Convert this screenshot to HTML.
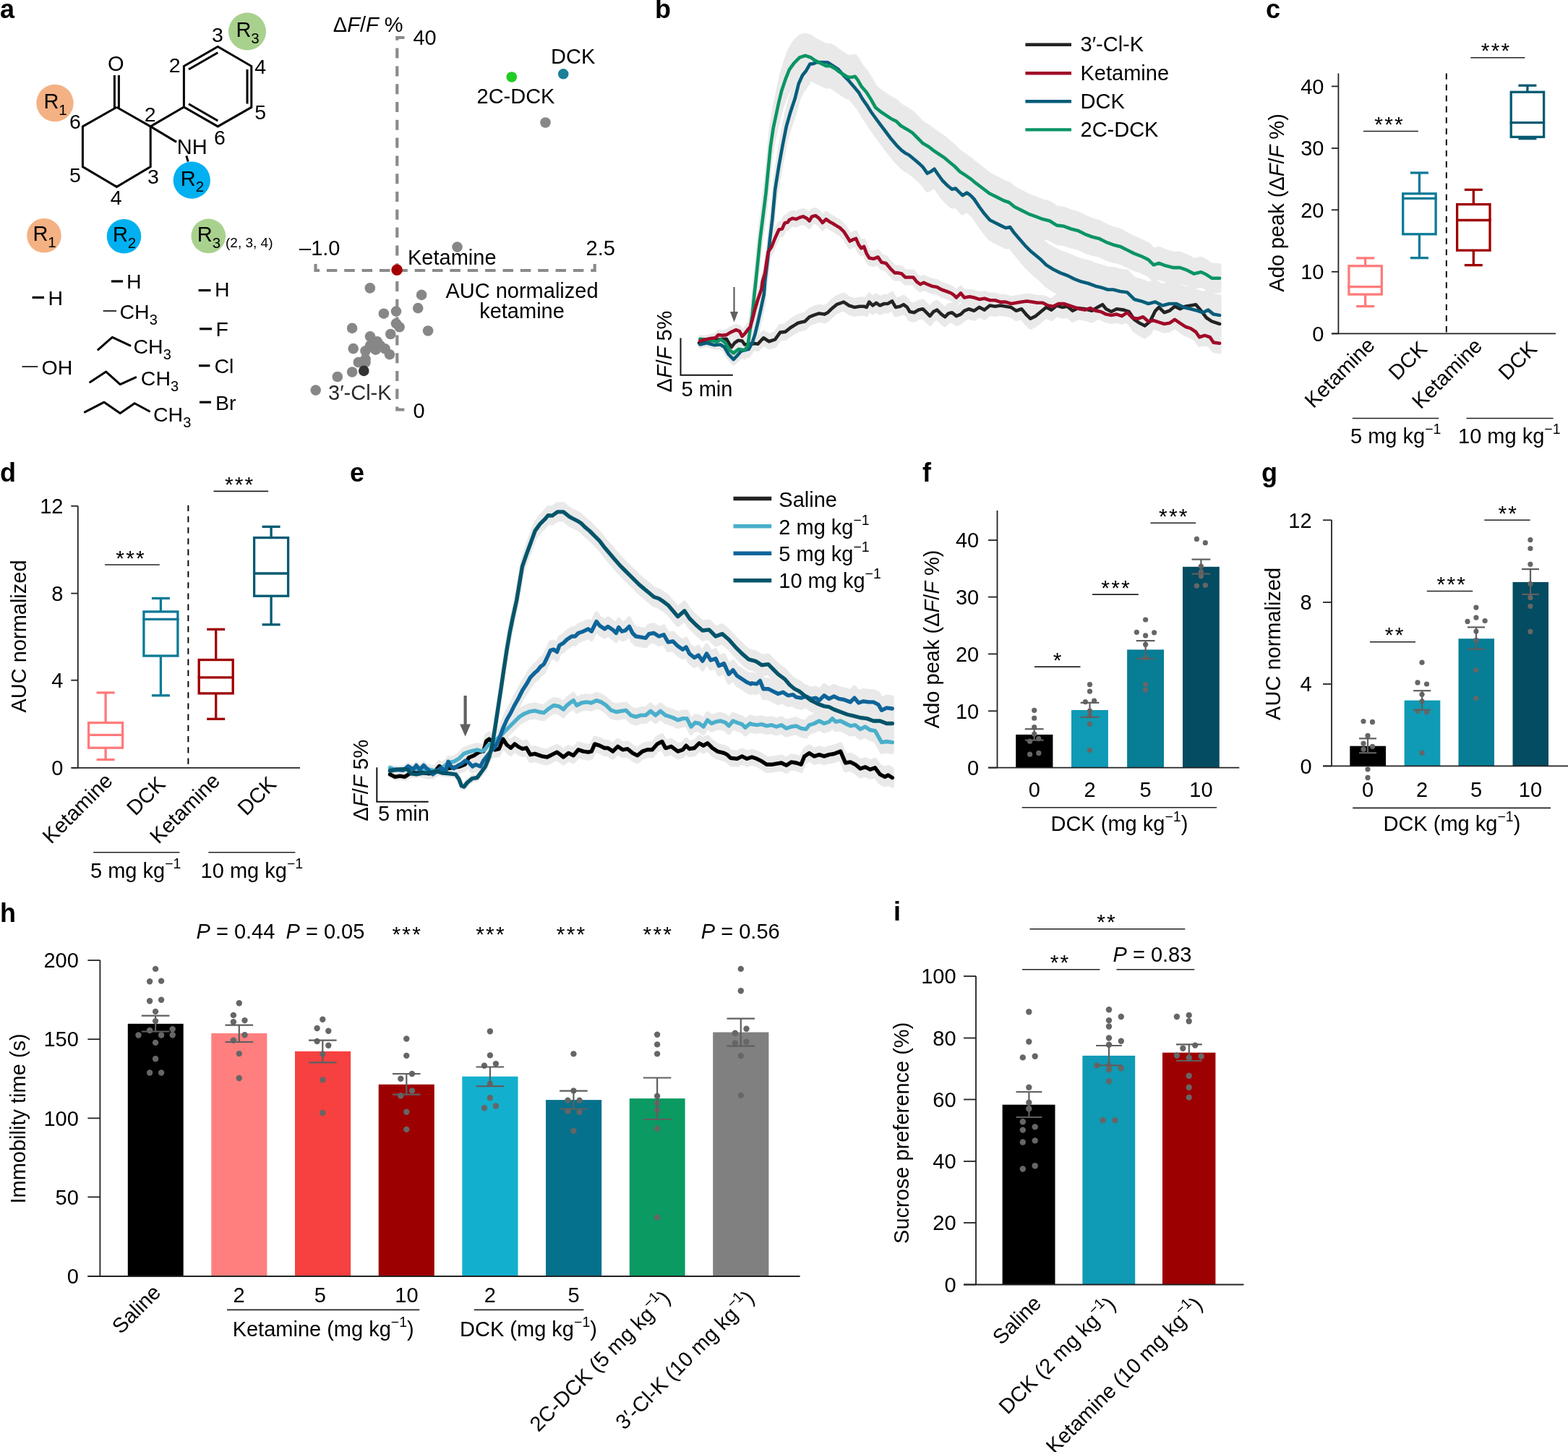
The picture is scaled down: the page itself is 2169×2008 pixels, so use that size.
<!DOCTYPE html>
<html><head><meta charset="utf-8"><title>Figure</title>
<style>
html,body{margin:0;padding:0;background:#fff;}
svg{display:block;}
text{font-family:"Liberation Sans",Arial,Helvetica,sans-serif;}
</style></head>
<body>
<svg width="2169" height="2008" viewBox="0 0 2169 2008">
<rect width="2169" height="2008" fill="#fff"/>
<text x="0.0" y="24.5" font-size="36" font-weight="bold">a</text>
<text x="906.0" y="24.5" font-size="36" font-weight="bold">b</text>
<text x="1751.0" y="24.5" font-size="36" font-weight="bold">c</text>
<text x="0.0" y="665.5" font-size="36" font-weight="bold">d</text>
<text x="484.0" y="665.5" font-size="36" font-weight="bold">e</text>
<text x="1276.0" y="665.5" font-size="36" font-weight="bold">f</text>
<text x="1745.0" y="665.5" font-size="36" font-weight="bold">g</text>
<text x="0.0" y="1275.0" font-size="36" font-weight="bold">h</text>
<text x="1236.0" y="1273.0" font-size="36" font-weight="bold">i</text>
<circle cx="76.0" cy="142.5" r="25.7" fill="#f4b183"/>
<circle cx="265.3" cy="249.2" r="25.6" fill="#00b0f0"/>
<circle cx="342.0" cy="43.6" r="26" fill="#a9d18e"/>
<polyline points="161.4,148.2 208.2,174.9 208.2,230.6 161.4,258.4 114.4,230.6 114.4,174.9 161.4,148.2" fill="none" stroke="#000" stroke-width="3.0" stroke-linejoin="miter"/>
<line x1="158.4" y1="104.0" x2="158.4" y2="149.5" stroke="#000" stroke-width="3.0"/>
<line x1="164.4" y1="104.0" x2="164.4" y2="150.5" stroke="#000" stroke-width="3.0"/>
<line x1="208.2" y1="174.9" x2="254.4" y2="148.0" stroke="#000" stroke-width="3.0"/>
<line x1="208.2" y1="174.9" x2="244.1" y2="196.4" stroke="#000" stroke-width="3.0"/>
<line x1="257.8" y1="215.4" x2="260.2" y2="223.5" stroke="#000" stroke-width="3.0"/>
<polyline points="254.4,148.0 254.4,91.5 301.3,64.4 347.8,91.5 347.8,148.4 301.3,174.9 254.4,148.0" fill="none" stroke="#000" stroke-width="3.0" stroke-linejoin="miter"/>
<line x1="261.0" y1="96.0" x2="301.3" y2="72.8" stroke="#000" stroke-width="3.0"/>
<line x1="342.0" y1="96.0" x2="342.0" y2="143.5" stroke="#000" stroke-width="3.0"/>
<line x1="261.0" y1="143.8" x2="301.3" y2="167.0" stroke="#000" stroke-width="3.0"/>
<text x="160.3" y="97.8" font-size="29" text-anchor="middle">O</text>
<text x="244.8" y="212.8" font-size="29">NH</text>
<text x="301.0" y="57.9" font-size="28.5" text-anchor="middle">3</text>
<text x="241.6" y="100.0" font-size="28.5" text-anchor="middle">2</text>
<text x="360.3" y="102.0" font-size="28.5" text-anchor="middle">4</text>
<text x="360.3" y="165.2" font-size="28.5" text-anchor="middle">5</text>
<text x="304.0" y="200.0" font-size="28.5" text-anchor="middle">6</text>
<text x="207.6" y="167.5" font-size="28.5" text-anchor="middle">2</text>
<text x="104.0" y="178.3" font-size="28.5" text-anchor="middle">6</text>
<text x="104.0" y="251.6" font-size="28.5" text-anchor="middle">5</text>
<text x="160.7" y="283.4" font-size="28.5" text-anchor="middle">4</text>
<text x="212.0" y="253.9" font-size="28.5" text-anchor="middle">3</text>
<text x="60.4" y="149.8" font-size="29">R<tspan font-size="20.5" dy="8.9">1</tspan></text>
<text x="249.7" y="256.5" font-size="29">R<tspan font-size="20.5" dy="8.9">2</tspan></text>
<text x="326.4" y="50.9" font-size="29">R<tspan font-size="20.5" dy="8.9">3</tspan></text>
<circle cx="61.0" cy="325.8" r="23.8" fill="#f4b183"/>
<circle cx="171.5" cy="326.8" r="23.8" fill="#00b0f0"/>
<circle cx="288.3" cy="326.4" r="23.8" fill="#a9d18e"/>
<text x="45.4" y="333.1" font-size="29">R<tspan font-size="20.5" dy="8.9">1</tspan></text>
<text x="155.9" y="334.1" font-size="29">R<tspan font-size="20.5" dy="8.9">2</tspan></text>
<text x="272.7" y="333.7" font-size="29">R<tspan font-size="20.5" dy="8.9">3</tspan></text>
<text x="312.0" y="341.6" font-size="19">(2, 3, 4)</text>
<line x1="44.6" y1="411.4" x2="61.0" y2="411.4" stroke="#000" stroke-width="3.2"/>
<text x="66.5" y="421.5" font-size="28.5">H</text>
<line x1="30.5" y1="507.0" x2="52.2" y2="507.0" stroke="#000" stroke-width="1.6"/>
<text x="57.5" y="518.3" font-size="28.5">OH</text>
<line x1="154.0" y1="389.0" x2="170.0" y2="389.0" stroke="#000" stroke-width="3.2"/>
<text x="175.0" y="399.0" font-size="28.5">H</text>
<line x1="142.7" y1="430.0" x2="161.0" y2="430.0" stroke="#000" stroke-width="1.6"/>
<text x="165.5" y="440.5" font-size="28.5">CH<tspan font-size="20" dy="8">3</tspan></text>
<polyline points="135.7,483.6 155.3,466.3 180.0,477.9" fill="none" stroke="#000" stroke-width="3.0" stroke-linejoin="round" stroke-linecap="round"/>
<text x="184.5" y="488.9" font-size="28.5">CH<tspan font-size="20" dy="8">3</tspan></text>
<polyline points="124.6,528.4 146.7,514.1 166.2,531.6 187.7,521.9" fill="none" stroke="#000" stroke-width="3.0" stroke-linejoin="round" stroke-linecap="round"/>
<text x="194.8" y="533.0" font-size="28.5">CH<tspan font-size="20" dy="8">3</tspan></text>
<polyline points="117.4,569.9 144.1,556.2 166.2,571.6 186.2,557.7 206.6,568.8" fill="none" stroke="#000" stroke-width="3.0" stroke-linejoin="round" stroke-linecap="round"/>
<text x="212.0" y="583.0" font-size="28.5">CH<tspan font-size="20" dy="8">3</tspan></text>
<line x1="274.6" y1="401.5" x2="291.5" y2="401.5" stroke="#000" stroke-width="3.2"/>
<text x="297.0" y="410.0" font-size="28.5">H</text>
<line x1="276.0" y1="454.8" x2="293.0" y2="454.8" stroke="#000" stroke-width="3.2"/>
<text x="298.5" y="464.7" font-size="28.5">F</text>
<line x1="275.0" y1="505.7" x2="290.4" y2="505.7" stroke="#000" stroke-width="3.2"/>
<text x="296.5" y="516.0" font-size="28.5">Cl</text>
<line x1="276.0" y1="556.2" x2="292.0" y2="556.2" stroke="#000" stroke-width="3.2"/>
<text x="298.0" y="566.7" font-size="28.5">Br</text>
<path d="M559.5,52 L549.3,52 L549.3,566.5 L559.5,566.5" fill="none" stroke="#8a8a8a" stroke-width="4.2" stroke-dasharray="14 10.8"/>
<path d="M436.5,365 L436.5,374 L822.7,374 L822.7,365" fill="none" stroke="#8a8a8a" stroke-width="4.2" stroke-dasharray="14.5 9.86"/>
<text x="557.5" y="43.8" font-size="29" text-anchor="end">&#916;<tspan font-style="italic">F</tspan>/<tspan font-style="italic">F</tspan> %</text>
<text x="571.4" y="62.3" font-size="29">40</text>
<text x="571.4" y="578.0" font-size="29">0</text>
<text x="414.0" y="353.2" font-size="29">&#8211;1.0</text>
<text x="810.5" y="353.2" font-size="29">2.5</text>
<text x="762.0" y="88.3" font-size="29">DCK</text>
<text x="659.5" y="142.9" font-size="29">2C-DCK</text>
<text x="564.0" y="366.2" font-size="29">Ketamine</text>
<text x="722.0" y="411.7" font-size="29" text-anchor="middle">AUC normalized</text>
<text x="722.0" y="440.0" font-size="29" text-anchor="middle">ketamine</text>
<text x="454.0" y="553.0" font-size="29" fill="#2b2b2b">3&#8242;-Cl-K</text>
<circle cx="632.5" cy="341.6" r="7.3" fill="#878787"/>
<circle cx="754.5" cy="169.5" r="7.3" fill="#878787"/>
<circle cx="511.8" cy="398.4" r="7.3" fill="#878787"/>
<circle cx="583.1" cy="407.9" r="7.3" fill="#878787"/>
<circle cx="578.2" cy="426.1" r="7.3" fill="#878787"/>
<circle cx="530.9" cy="433.7" r="7.3" fill="#878787"/>
<circle cx="548.0" cy="430.6" r="7.3" fill="#878787"/>
<circle cx="548.0" cy="447.4" r="7.3" fill="#878787"/>
<circle cx="552.6" cy="452.3" r="7.3" fill="#878787"/>
<circle cx="487.1" cy="453.9" r="7.3" fill="#878787"/>
<circle cx="592.1" cy="457.5" r="7.3" fill="#878787"/>
<circle cx="540.3" cy="462.0" r="7.3" fill="#878787"/>
<circle cx="512.0" cy="465.3" r="7.3" fill="#878787"/>
<circle cx="521.7" cy="472.3" r="7.3" fill="#878787"/>
<circle cx="488.7" cy="482.1" r="7.3" fill="#878787"/>
<circle cx="532.6" cy="482.4" r="7.3" fill="#878787"/>
<circle cx="505.5" cy="485.3" r="7.3" fill="#878787"/>
<circle cx="519.6" cy="483.7" r="7.3" fill="#878787"/>
<circle cx="539.0" cy="490.2" r="7.3" fill="#878787"/>
<circle cx="512.0" cy="478.0" r="7.3" fill="#878787"/>
<circle cx="526.0" cy="478.0" r="7.3" fill="#878787"/>
<circle cx="505.5" cy="496.7" r="7.3" fill="#878787"/>
<circle cx="495.8" cy="501.0" r="7.3" fill="#878787"/>
<circle cx="505.5" cy="501.0" r="7.3" fill="#878787"/>
<circle cx="487.1" cy="514.5" r="7.3" fill="#878787"/>
<circle cx="466.8" cy="521.0" r="7.3" fill="#878787"/>
<circle cx="436.7" cy="539.6" r="7.3" fill="#878787"/>
<circle cx="503.3" cy="512.9" r="7.3" fill="#333"/>
<circle cx="549.1" cy="373.3" r="7.8" fill="#a50000"/>
<circle cx="707.8" cy="106.5" r="7.3" fill="#22cc22"/>
<circle cx="779.2" cy="102.3" r="7.3" fill="#1b7f99"/>
<line x1="1851.4" y1="101.5" x2="1851.4" y2="461.4" stroke="#222" stroke-width="1.8"/>
<line x1="1841.9" y1="119.4" x2="1851.4" y2="119.4" stroke="#222" stroke-width="1.8"/>
<text x="1831.5" y="129.6" font-size="29" text-anchor="end">40</text>
<line x1="1841.9" y1="205.0" x2="1851.4" y2="205.0" stroke="#222" stroke-width="1.8"/>
<text x="1831.5" y="215.2" font-size="29" text-anchor="end">30</text>
<line x1="1841.9" y1="290.3" x2="1851.4" y2="290.3" stroke="#222" stroke-width="1.8"/>
<text x="1831.5" y="300.5" font-size="29" text-anchor="end">20</text>
<line x1="1841.9" y1="375.8" x2="1851.4" y2="375.8" stroke="#222" stroke-width="1.8"/>
<text x="1831.5" y="386.0" font-size="29" text-anchor="end">10</text>
<line x1="1841.9" y1="461.4" x2="1851.4" y2="461.4" stroke="#222" stroke-width="1.8"/>
<text x="1831.5" y="471.6" font-size="29" text-anchor="end">0</text>
<line x1="1842.0" y1="461.4" x2="2152.0" y2="461.4" stroke="#222" stroke-width="1.8"/>
<text x="1775.5" y="280.5" font-size="29" text-anchor="middle" transform="rotate(-90 1775.5 280.5)">Ado peak (&#916;<tspan font-style="italic">F</tspan>/<tspan font-style="italic">F</tspan> %)</text>
<line x1="2000.8" y1="101.5" x2="2000.8" y2="461.4" stroke="#000" stroke-width="1.9" stroke-dasharray="8.3 6.9"/>
<rect x="1865.9" y="367.8" width="45.4" height="39.3" fill="none" stroke="#ff7b7b" stroke-width="3.3"/>
<line x1="1864.4" y1="396.6" x2="1912.8" y2="396.6" stroke="#ff7b7b" stroke-width="3.3"/>
<line x1="1888.6" y1="367.8" x2="1888.6" y2="356.9" stroke="#ff7b7b" stroke-width="3.3"/>
<line x1="1888.6" y1="407.1" x2="1888.6" y2="423.6" stroke="#ff7b7b" stroke-width="3.3"/>
<line x1="1876.1" y1="356.9" x2="1901.1" y2="356.9" stroke="#ff7b7b" stroke-width="3.3"/>
<line x1="1876.1" y1="423.6" x2="1901.1" y2="423.6" stroke="#ff7b7b" stroke-width="3.3"/>
<rect x="1940.7" y="267.8" width="45.4" height="56.0" fill="none" stroke="#0b7a96" stroke-width="3.3"/>
<line x1="1939.2" y1="274.3" x2="1987.6" y2="274.3" stroke="#0b7a96" stroke-width="3.3"/>
<line x1="1963.4" y1="267.8" x2="1963.4" y2="239.0" stroke="#0b7a96" stroke-width="3.3"/>
<line x1="1963.4" y1="323.8" x2="1963.4" y2="356.7" stroke="#0b7a96" stroke-width="3.3"/>
<line x1="1950.9" y1="239.0" x2="1975.9" y2="239.0" stroke="#0b7a96" stroke-width="3.3"/>
<line x1="1950.9" y1="356.7" x2="1975.9" y2="356.7" stroke="#0b7a96" stroke-width="3.3"/>
<rect x="2015.6" y="282.6" width="45.4" height="63.6" fill="none" stroke="#9e0000" stroke-width="3.3"/>
<line x1="2014.1" y1="304.5" x2="2062.5" y2="304.5" stroke="#9e0000" stroke-width="3.3"/>
<line x1="2038.3" y1="282.6" x2="2038.3" y2="262.4" stroke="#9e0000" stroke-width="3.3"/>
<line x1="2038.3" y1="346.2" x2="2038.3" y2="366.7" stroke="#9e0000" stroke-width="3.3"/>
<line x1="2025.8" y1="262.4" x2="2050.8" y2="262.4" stroke="#9e0000" stroke-width="3.3"/>
<line x1="2025.8" y1="366.7" x2="2050.8" y2="366.7" stroke="#9e0000" stroke-width="3.3"/>
<rect x="2090.2" y="127.3" width="45.4" height="62.1" fill="none" stroke="#045a72" stroke-width="3.3"/>
<line x1="2088.7" y1="169.7" x2="2137.1" y2="169.7" stroke="#045a72" stroke-width="3.3"/>
<line x1="2112.9" y1="127.3" x2="2112.9" y2="118.2" stroke="#045a72" stroke-width="3.3"/>
<line x1="2112.9" y1="189.4" x2="2112.9" y2="191.7" stroke="#045a72" stroke-width="3.3"/>
<line x1="2100.4" y1="118.2" x2="2125.4" y2="118.2" stroke="#045a72" stroke-width="3.3"/>
<line x1="2100.4" y1="191.7" x2="2125.4" y2="191.7" stroke="#045a72" stroke-width="3.3"/>
<text x="1922.1" y="182.0" font-size="30" text-anchor="middle" letter-spacing="2.2">***</text>
<line x1="1886.0" y1="181.5" x2="1961.8" y2="181.5" stroke="#222" stroke-width="1.6"/>
<text x="2069.6" y="80.2" font-size="30" text-anchor="middle" letter-spacing="2.2">***</text>
<line x1="2034.3" y1="79.7" x2="2109.4" y2="79.7" stroke="#222" stroke-width="1.6"/>
<text x="1903.5" y="479.0" font-size="29" text-anchor="end" transform="rotate(-45 1903.5 479.0)">Ketamine</text>
<text x="1976.0" y="484.0" font-size="29" text-anchor="end" transform="rotate(-45 1976.0 484.0)">DCK</text>
<text x="2052.0" y="480.0" font-size="29" text-anchor="end" transform="rotate(-45 2052.0 480.0)">Ketamine</text>
<text x="2128.0" y="484.0" font-size="29" text-anchor="end" transform="rotate(-45 2128.0 484.0)">DCK</text>
<line x1="1870.8" y1="578.5" x2="1990.3" y2="578.5" stroke="#222" stroke-width="1.6"/>
<line x1="2028.4" y1="578.5" x2="2148.6" y2="578.5" stroke="#222" stroke-width="1.6"/>
<text x="1868.0" y="612.5" font-size="29">5 mg kg<tspan font-size="19.5" dy="-13">&#8722;1</tspan><tspan dy="13"></tspan></text>
<text x="2017.0" y="612.5" font-size="29">10 mg kg<tspan font-size="19.5" dy="-13">&#8722;1</tspan><tspan dy="13"></tspan></text>
<line x1="107.8" y1="699.8" x2="107.8" y2="1061.8" stroke="#222" stroke-width="1.8"/>
<line x1="98.3" y1="699.8" x2="107.8" y2="699.8" stroke="#222" stroke-width="1.8"/>
<text x="87.5" y="710.0" font-size="29" text-anchor="end">12</text>
<line x1="98.3" y1="820.6" x2="107.8" y2="820.6" stroke="#222" stroke-width="1.8"/>
<text x="87.5" y="830.8" font-size="29" text-anchor="end">8</text>
<line x1="98.3" y1="940.7" x2="107.8" y2="940.7" stroke="#222" stroke-width="1.8"/>
<text x="87.5" y="950.9" font-size="29" text-anchor="end">4</text>
<line x1="98.3" y1="1061.8" x2="107.8" y2="1061.8" stroke="#222" stroke-width="1.8"/>
<text x="87.5" y="1072.0" font-size="29" text-anchor="end">0</text>
<line x1="99.0" y1="1061.8" x2="415.0" y2="1061.8" stroke="#222" stroke-width="1.8"/>
<text x="36.0" y="880.0" font-size="29" text-anchor="middle" transform="rotate(-90 36.0 880.0)">AUC normalized</text>
<line x1="260.4" y1="698.8" x2="260.4" y2="1061.8" stroke="#000" stroke-width="1.9" stroke-dasharray="8.3 6.9"/>
<rect x="122.6" y="999.5" width="47.0" height="34.7" fill="none" stroke="#ff7b7b" stroke-width="3.3"/>
<line x1="121.1" y1="1016.4" x2="171.1" y2="1016.4" stroke="#ff7b7b" stroke-width="3.3"/>
<line x1="146.1" y1="999.5" x2="146.1" y2="957.9" stroke="#ff7b7b" stroke-width="3.3"/>
<line x1="146.1" y1="1034.2" x2="146.1" y2="1050.5" stroke="#ff7b7b" stroke-width="3.3"/>
<line x1="133.6" y1="957.9" x2="158.6" y2="957.9" stroke="#ff7b7b" stroke-width="3.3"/>
<line x1="133.6" y1="1050.5" x2="158.6" y2="1050.5" stroke="#ff7b7b" stroke-width="3.3"/>
<rect x="198.9" y="845.9" width="47.0" height="61.1" fill="none" stroke="#0b7a96" stroke-width="3.3"/>
<line x1="197.4" y1="856.3" x2="247.4" y2="856.3" stroke="#0b7a96" stroke-width="3.3"/>
<line x1="222.4" y1="845.9" x2="222.4" y2="827.4" stroke="#0b7a96" stroke-width="3.3"/>
<line x1="222.4" y1="907.0" x2="222.4" y2="961.8" stroke="#0b7a96" stroke-width="3.3"/>
<line x1="209.9" y1="827.4" x2="234.9" y2="827.4" stroke="#0b7a96" stroke-width="3.3"/>
<line x1="209.9" y1="961.8" x2="234.9" y2="961.8" stroke="#0b7a96" stroke-width="3.3"/>
<rect x="275.2" y="912.5" width="47.0" height="46.4" fill="none" stroke="#9e0000" stroke-width="3.3"/>
<line x1="273.7" y1="936.8" x2="323.7" y2="936.8" stroke="#9e0000" stroke-width="3.3"/>
<line x1="298.7" y1="912.5" x2="298.7" y2="870.3" stroke="#9e0000" stroke-width="3.3"/>
<line x1="298.7" y1="958.9" x2="298.7" y2="994.3" stroke="#9e0000" stroke-width="3.3"/>
<line x1="286.2" y1="870.3" x2="311.2" y2="870.3" stroke="#9e0000" stroke-width="3.3"/>
<line x1="286.2" y1="994.3" x2="311.2" y2="994.3" stroke="#9e0000" stroke-width="3.3"/>
<rect x="351.6" y="743.6" width="47.0" height="80.6" fill="none" stroke="#045a72" stroke-width="3.3"/>
<line x1="350.1" y1="793.0" x2="400.1" y2="793.0" stroke="#045a72" stroke-width="3.3"/>
<line x1="375.1" y1="743.6" x2="375.1" y2="728.4" stroke="#045a72" stroke-width="3.3"/>
<line x1="375.1" y1="824.2" x2="375.1" y2="863.8" stroke="#045a72" stroke-width="3.3"/>
<line x1="362.6" y1="728.4" x2="387.6" y2="728.4" stroke="#045a72" stroke-width="3.3"/>
<line x1="362.6" y1="863.8" x2="387.6" y2="863.8" stroke="#045a72" stroke-width="3.3"/>
<text x="181.1" y="781.5" font-size="30" text-anchor="middle" letter-spacing="2.2">***</text>
<line x1="145.1" y1="781.0" x2="220.8" y2="781.0" stroke="#222" stroke-width="1.6"/>
<text x="331.7" y="679.9" font-size="30" text-anchor="middle" letter-spacing="2.2">***</text>
<line x1="295.5" y1="679.4" x2="371.1" y2="679.4" stroke="#222" stroke-width="1.6"/>
<text x="157.5" y="1081.5" font-size="29" text-anchor="end" transform="rotate(-45 157.5 1081.5)">Ketamine</text>
<text x="230.5" y="1086.0" font-size="29" text-anchor="end" transform="rotate(-45 230.5 1086.0)">DCK</text>
<text x="306.0" y="1081.5" font-size="29" text-anchor="end" transform="rotate(-45 306.0 1081.5)">Ketamine</text>
<text x="384.0" y="1086.0" font-size="29" text-anchor="end" transform="rotate(-45 384.0 1086.0)">DCK</text>
<line x1="129.2" y1="1178.7" x2="248.4" y2="1178.7" stroke="#222" stroke-width="1.6"/>
<line x1="288.3" y1="1178.7" x2="408.4" y2="1178.7" stroke="#222" stroke-width="1.6"/>
<text x="125.0" y="1213.5" font-size="29">5 mg kg<tspan font-size="19.5" dy="-13">&#8722;1</tspan><tspan dy="13"></tspan></text>
<text x="277.6" y="1213.5" font-size="29">10 mg kg<tspan font-size="19.5" dy="-13">&#8722;1</tspan><tspan dy="13"></tspan></text>
<rect x="1405.2" y="1015.9" width="51.2" height="45.7" fill="#000000"/>
<rect x="1482.0" y="982.0" width="50.9" height="79.6" fill="#0f9ab5"/>
<rect x="1559.1" y="898.4" width="50.9" height="163.2" fill="#077d96"/>
<rect x="1636.0" y="783.8" width="50.8" height="277.8" fill="#034c61"/>
<line x1="1379.5" y1="705.9" x2="1379.5" y2="1061.6" stroke="#222" stroke-width="1.8"/>
<line x1="1367.0" y1="747.0" x2="1379.5" y2="747.0" stroke="#222" stroke-width="1.8"/>
<text x="1354.2" y="757.2" font-size="29" text-anchor="end">40</text>
<line x1="1367.0" y1="825.6" x2="1379.5" y2="825.6" stroke="#222" stroke-width="1.8"/>
<text x="1354.2" y="835.8" font-size="29" text-anchor="end">30</text>
<line x1="1367.0" y1="904.4" x2="1379.5" y2="904.4" stroke="#222" stroke-width="1.8"/>
<text x="1354.2" y="914.6" font-size="29" text-anchor="end">20</text>
<line x1="1367.0" y1="983.3" x2="1379.5" y2="983.3" stroke="#222" stroke-width="1.8"/>
<text x="1354.2" y="993.5" font-size="29" text-anchor="end">10</text>
<line x1="1367.0" y1="1061.6" x2="1379.5" y2="1061.6" stroke="#222" stroke-width="1.8"/>
<text x="1354.2" y="1071.8" font-size="29" text-anchor="end">0</text>
<line x1="1367.0" y1="1061.6" x2="1714.3" y2="1061.6" stroke="#222" stroke-width="1.8"/>
<text x="1299.0" y="883.8" font-size="29" text-anchor="middle" transform="rotate(-90 1299.0 883.8)">Ado peak (&#916;<tspan font-style="italic">F</tspan>/<tspan font-style="italic">F</tspan> %)</text>
<circle cx="1430.7" cy="982.3" r="3.6" fill="#666666"/>
<circle cx="1430.7" cy="993.2" r="3.6" fill="#666666"/>
<circle cx="1430.7" cy="1005.5" r="3.6" fill="#666666"/>
<circle cx="1430.7" cy="1015.0" r="3.6" fill="#666666"/>
<circle cx="1436.8" cy="1021.6" r="3.6" fill="#666666"/>
<circle cx="1424.6" cy="1025.2" r="3.6" fill="#666666"/>
<circle cx="1436.8" cy="1041.4" r="3.6" fill="#666666"/>
<circle cx="1424.6" cy="1043.2" r="3.6" fill="#666666"/>
<circle cx="1507.5" cy="946.6" r="3.6" fill="#666666"/>
<circle cx="1507.5" cy="956.1" r="3.6" fill="#666666"/>
<circle cx="1501.4" cy="970.7" r="3.6" fill="#666666"/>
<circle cx="1513.6" cy="969.1" r="3.6" fill="#666666"/>
<circle cx="1507.5" cy="983.2" r="3.6" fill="#666666"/>
<circle cx="1507.5" cy="990.0" r="3.6" fill="#666666"/>
<circle cx="1507.5" cy="1001.1" r="3.6" fill="#666666"/>
<circle cx="1507.5" cy="1037.3" r="3.6" fill="#666666"/>
<circle cx="1584.6" cy="857.0" r="3.6" fill="#666666"/>
<circle cx="1572.3" cy="874.3" r="3.6" fill="#666666"/>
<circle cx="1596.6" cy="874.8" r="3.6" fill="#666666"/>
<circle cx="1584.6" cy="878.9" r="3.6" fill="#666666"/>
<circle cx="1584.6" cy="891.3" r="3.6" fill="#666666"/>
<circle cx="1584.6" cy="910.0" r="3.6" fill="#666666"/>
<circle cx="1584.6" cy="946.6" r="3.6" fill="#666666"/>
<circle cx="1584.6" cy="954.3" r="3.6" fill="#666666"/>
<circle cx="1655.4" cy="745.4" r="3.6" fill="#666666"/>
<circle cx="1667.3" cy="750.7" r="3.6" fill="#666666"/>
<circle cx="1661.4" cy="783.2" r="3.6" fill="#666666"/>
<circle cx="1661.4" cy="790.9" r="3.6" fill="#666666"/>
<circle cx="1661.4" cy="796.8" r="3.6" fill="#666666"/>
<circle cx="1655.4" cy="810.2" r="3.6" fill="#666666"/>
<circle cx="1667.3" cy="809.3" r="3.6" fill="#666666"/>
<line x1="1430.7" y1="1008.2" x2="1430.7" y2="1023.6" stroke="#5f5f5f" stroke-width="2.2"/>
<line x1="1417.8" y1="1008.2" x2="1443.6" y2="1008.2" stroke="#5f5f5f" stroke-width="2.2"/>
<line x1="1417.8" y1="1023.6" x2="1443.6" y2="1023.6" stroke="#5f5f5f" stroke-width="2.2"/>
<line x1="1507.5" y1="971.8" x2="1507.5" y2="991.8" stroke="#5f5f5f" stroke-width="2.2"/>
<line x1="1494.6" y1="971.8" x2="1520.4" y2="971.8" stroke="#5f5f5f" stroke-width="2.2"/>
<line x1="1494.6" y1="991.8" x2="1520.4" y2="991.8" stroke="#5f5f5f" stroke-width="2.2"/>
<line x1="1584.6" y1="886.1" x2="1584.6" y2="910.9" stroke="#5f5f5f" stroke-width="2.2"/>
<line x1="1571.7" y1="886.1" x2="1597.5" y2="886.1" stroke="#5f5f5f" stroke-width="2.2"/>
<line x1="1571.7" y1="910.9" x2="1597.5" y2="910.9" stroke="#5f5f5f" stroke-width="2.2"/>
<line x1="1661.4" y1="773.6" x2="1661.4" y2="793.6" stroke="#5f5f5f" stroke-width="2.2"/>
<line x1="1648.5" y1="773.6" x2="1674.3" y2="773.6" stroke="#5f5f5f" stroke-width="2.2"/>
<line x1="1648.5" y1="793.6" x2="1674.3" y2="793.6" stroke="#5f5f5f" stroke-width="2.2"/>
<line x1="1431.0" y1="922.1" x2="1494.5" y2="922.1" stroke="#222" stroke-width="1.6"/>
<text x="1463.8" y="922.6" font-size="30" text-anchor="middle" letter-spacing="2.2">*</text>
<line x1="1511.0" y1="822.1" x2="1574.8" y2="822.1" stroke="#222" stroke-width="1.6"/>
<text x="1544.1" y="822.6" font-size="30" text-anchor="middle" letter-spacing="2.2">***</text>
<line x1="1591.4" y1="723.2" x2="1654.2" y2="723.2" stroke="#222" stroke-width="1.6"/>
<text x="1623.9" y="723.7" font-size="30" text-anchor="middle" letter-spacing="2.2">***</text>
<text x="1430.7" y="1101.8" font-size="29" text-anchor="middle">0</text>
<text x="1507.5" y="1101.8" font-size="29" text-anchor="middle">2</text>
<text x="1584.6" y="1101.8" font-size="29" text-anchor="middle">5</text>
<text x="1661.4" y="1101.8" font-size="29" text-anchor="middle">10</text>
<line x1="1413.7" y1="1116.7" x2="1683.1" y2="1116.7" stroke="#222" stroke-width="1.6"/>
<text x="1548.4" y="1149.4" font-size="29" text-anchor="middle">DCK (mg kg<tspan font-size="19.5" dy="-13">&#8722;1</tspan><tspan dy="13">)</tspan></text>
<rect x="1867.3" y="1031.7" width="49.7" height="27.7" fill="#000000"/>
<rect x="1942.6" y="968.6" width="49.7" height="90.8" fill="#0f9ab5"/>
<rect x="2017.5" y="883.2" width="49.5" height="176.2" fill="#077d96"/>
<rect x="2092.5" y="805.0" width="49.5" height="254.4" fill="#034c61"/>
<line x1="1842.0" y1="719.3" x2="1842.0" y2="1059.4" stroke="#222" stroke-width="1.8"/>
<line x1="1830.0" y1="719.3" x2="1842.0" y2="719.3" stroke="#222" stroke-width="1.8"/>
<text x="1814.6" y="729.5" font-size="29" text-anchor="end">12</text>
<line x1="1830.0" y1="832.9" x2="1842.0" y2="832.9" stroke="#222" stroke-width="1.8"/>
<text x="1814.6" y="843.1" font-size="29" text-anchor="end">8</text>
<line x1="1830.0" y1="946.0" x2="1842.0" y2="946.0" stroke="#222" stroke-width="1.8"/>
<text x="1814.6" y="956.2" font-size="29" text-anchor="end">4</text>
<line x1="1830.0" y1="1059.4" x2="1842.0" y2="1059.4" stroke="#222" stroke-width="1.8"/>
<text x="1814.6" y="1069.6" font-size="29" text-anchor="end">0</text>
<line x1="1830.0" y1="1059.4" x2="2169.0" y2="1059.4" stroke="#222" stroke-width="1.8"/>
<text x="1771.0" y="890.3" font-size="29" text-anchor="middle" transform="rotate(-90 1771.0 890.3)">AUC normalized</text>
<circle cx="1886.0" cy="997.5" r="3.6" fill="#666666"/>
<circle cx="1898.5" cy="998.4" r="3.6" fill="#666666"/>
<circle cx="1892.0" cy="1017.4" r="3.6" fill="#666666"/>
<circle cx="1886.0" cy="1028.1" r="3.6" fill="#666666"/>
<circle cx="1898.5" cy="1032.3" r="3.6" fill="#666666"/>
<circle cx="1886.0" cy="1036.2" r="3.6" fill="#666666"/>
<circle cx="1892.0" cy="1063.8" r="3.6" fill="#666666"/>
<circle cx="1892.0" cy="1075.4" r="3.6" fill="#666666"/>
<circle cx="1967.0" cy="916.2" r="3.6" fill="#666666"/>
<circle cx="1961.0" cy="943.9" r="3.6" fill="#666666"/>
<circle cx="1973.5" cy="946.0" r="3.6" fill="#666666"/>
<circle cx="1967.0" cy="960.3" r="3.6" fill="#666666"/>
<circle cx="1967.0" cy="969.8" r="3.6" fill="#666666"/>
<circle cx="1961.0" cy="983.5" r="3.6" fill="#666666"/>
<circle cx="1973.5" cy="984.7" r="3.6" fill="#666666"/>
<circle cx="1967.0" cy="1041.2" r="3.6" fill="#666666"/>
<circle cx="2041.9" cy="840.1" r="3.6" fill="#666666"/>
<circle cx="2041.9" cy="854.1" r="3.6" fill="#666666"/>
<circle cx="2030.0" cy="859.4" r="3.6" fill="#666666"/>
<circle cx="2054.1" cy="858.5" r="3.6" fill="#666666"/>
<circle cx="2041.9" cy="873.1" r="3.6" fill="#666666"/>
<circle cx="2041.9" cy="885.3" r="3.6" fill="#666666"/>
<circle cx="2041.9" cy="926.7" r="3.6" fill="#666666"/>
<circle cx="2041.9" cy="965.6" r="3.6" fill="#666666"/>
<circle cx="2116.9" cy="746.6" r="3.6" fill="#666666"/>
<circle cx="2116.9" cy="758.5" r="3.6" fill="#666666"/>
<circle cx="2116.9" cy="780.3" r="3.6" fill="#666666"/>
<circle cx="2116.9" cy="807.3" r="3.6" fill="#666666"/>
<circle cx="2116.9" cy="826.4" r="3.6" fill="#666666"/>
<circle cx="2116.9" cy="838.3" r="3.6" fill="#666666"/>
<circle cx="2116.9" cy="873.4" r="3.6" fill="#666666"/>
<line x1="1892.0" y1="1021.3" x2="1892.0" y2="1041.2" stroke="#5f5f5f" stroke-width="2.2"/>
<line x1="1880.0" y1="1021.3" x2="1904.0" y2="1021.3" stroke="#5f5f5f" stroke-width="2.2"/>
<line x1="1880.0" y1="1041.2" x2="1904.0" y2="1041.2" stroke="#5f5f5f" stroke-width="2.2"/>
<line x1="1967.2" y1="955.2" x2="1967.2" y2="981.7" stroke="#5f5f5f" stroke-width="2.2"/>
<line x1="1955.2" y1="955.2" x2="1979.2" y2="955.2" stroke="#5f5f5f" stroke-width="2.2"/>
<line x1="1955.2" y1="981.7" x2="1979.2" y2="981.7" stroke="#5f5f5f" stroke-width="2.2"/>
<line x1="2042.0" y1="867.4" x2="2042.0" y2="897.8" stroke="#5f5f5f" stroke-width="2.2"/>
<line x1="2030.0" y1="867.4" x2="2054.0" y2="867.4" stroke="#5f5f5f" stroke-width="2.2"/>
<line x1="2030.0" y1="897.8" x2="2054.0" y2="897.8" stroke="#5f5f5f" stroke-width="2.2"/>
<line x1="2117.0" y1="787.1" x2="2117.0" y2="821.9" stroke="#5f5f5f" stroke-width="2.2"/>
<line x1="2105.0" y1="787.1" x2="2129.0" y2="787.1" stroke="#5f5f5f" stroke-width="2.2"/>
<line x1="2105.0" y1="821.9" x2="2129.0" y2="821.9" stroke="#5f5f5f" stroke-width="2.2"/>
<line x1="1895.0" y1="887.7" x2="1958.0" y2="887.7" stroke="#222" stroke-width="1.6"/>
<text x="1929.7" y="888.2" font-size="30" text-anchor="middle" letter-spacing="2.2">**</text>
<line x1="1973.8" y1="817.5" x2="2037.2" y2="817.5" stroke="#222" stroke-width="1.6"/>
<text x="2008.4" y="818.0" font-size="30" text-anchor="middle" letter-spacing="2.2">***</text>
<line x1="2053.3" y1="719.3" x2="2116.6" y2="719.3" stroke="#222" stroke-width="1.6"/>
<text x="2086.3" y="719.8" font-size="30" text-anchor="middle" letter-spacing="2.2">**</text>
<text x="1892.0" y="1101.6" font-size="29" text-anchor="middle">0</text>
<text x="1967.0" y="1101.6" font-size="29" text-anchor="middle">2</text>
<text x="2042.0" y="1101.6" font-size="29" text-anchor="middle">5</text>
<text x="2117.0" y="1101.6" font-size="29" text-anchor="middle">10</text>
<line x1="1871.2" y1="1117.4" x2="2145.0" y2="1117.4" stroke="#222" stroke-width="1.6"/>
<text x="2008.4" y="1149.2" font-size="29" text-anchor="middle">DCK (mg kg<tspan font-size="19.5" dy="-13">&#8722;1</tspan><tspan dy="13">)</tspan></text>
<rect x="176.8" y="1415.8" width="76.9" height="349.2" fill="#000000"/>
<rect x="292.3" y="1429.0" width="77.1" height="336.0" fill="#ff7f7f"/>
<rect x="408.0" y="1453.9" width="77.1" height="311.1" fill="#f74040"/>
<rect x="523.7" y="1499.7" width="77.1" height="265.3" fill="#9d0000"/>
<rect x="639.3" y="1488.7" width="77.2" height="276.3" fill="#12b0ce"/>
<rect x="755.0" y="1521.1" width="77.2" height="243.9" fill="#06718c"/>
<rect x="870.8" y="1519.1" width="76.8" height="245.9" fill="#0a9a62"/>
<rect x="986.2" y="1427.5" width="77.2" height="337.5" fill="#808080"/>
<line x1="138.4" y1="1328.0" x2="138.4" y2="1765.0" stroke="#222" stroke-width="1.8"/>
<line x1="121.4" y1="1328.0" x2="138.4" y2="1328.0" stroke="#222" stroke-width="1.8"/>
<text x="108.8" y="1338.2" font-size="29" text-anchor="end">200</text>
<line x1="121.4" y1="1437.2" x2="138.4" y2="1437.2" stroke="#222" stroke-width="1.8"/>
<text x="108.8" y="1447.4" font-size="29" text-anchor="end">150</text>
<line x1="121.4" y1="1546.4" x2="138.4" y2="1546.4" stroke="#222" stroke-width="1.8"/>
<text x="108.8" y="1556.6" font-size="29" text-anchor="end">100</text>
<line x1="121.4" y1="1655.4" x2="138.4" y2="1655.4" stroke="#222" stroke-width="1.8"/>
<text x="108.8" y="1665.6" font-size="29" text-anchor="end">50</text>
<line x1="121.4" y1="1765.0" x2="138.4" y2="1765.0" stroke="#222" stroke-width="1.8"/>
<text x="108.8" y="1775.2" font-size="29" text-anchor="end">0</text>
<line x1="121.4" y1="1765.0" x2="1106.6" y2="1765.0" stroke="#222" stroke-width="1.8"/>
<text x="35.3" y="1546.9" font-size="29" text-anchor="middle" transform="rotate(-90 35.3 1546.9)">Immobility time (s)</text>
<circle cx="215.1" cy="1339.9" r="4.2" fill="#666666"/>
<circle cx="207.1" cy="1357.3" r="4.2" fill="#666666"/>
<circle cx="223.1" cy="1356.6" r="4.2" fill="#666666"/>
<circle cx="207.1" cy="1384.2" r="4.2" fill="#666666"/>
<circle cx="223.1" cy="1382.7" r="4.2" fill="#666666"/>
<circle cx="215.1" cy="1398.9" r="4.2" fill="#666666"/>
<circle cx="215.1" cy="1412.1" r="4.2" fill="#666666"/>
<circle cx="207.1" cy="1425.0" r="4.2" fill="#666666"/>
<circle cx="238.7" cy="1423.3" r="4.2" fill="#666666"/>
<circle cx="191.5" cy="1431.5" r="4.2" fill="#666666"/>
<circle cx="223.1" cy="1431.5" r="4.2" fill="#666666"/>
<circle cx="238.7" cy="1431.2" r="4.2" fill="#666666"/>
<circle cx="215.1" cy="1441.9" r="4.2" fill="#666666"/>
<circle cx="215.1" cy="1464.3" r="4.2" fill="#666666"/>
<circle cx="207.1" cy="1483.5" r="4.2" fill="#666666"/>
<circle cx="223.1" cy="1483.5" r="4.2" fill="#666666"/>
<circle cx="330.8" cy="1387.2" r="4.2" fill="#666666"/>
<circle cx="322.9" cy="1403.9" r="4.2" fill="#666666"/>
<circle cx="322.9" cy="1413.3" r="4.2" fill="#666666"/>
<circle cx="338.5" cy="1411.1" r="4.2" fill="#666666"/>
<circle cx="338.5" cy="1431.2" r="4.2" fill="#666666"/>
<circle cx="322.9" cy="1438.7" r="4.2" fill="#666666"/>
<circle cx="330.8" cy="1457.1" r="4.2" fill="#666666"/>
<circle cx="330.8" cy="1491.0" r="4.2" fill="#666666"/>
<circle cx="446.3" cy="1409.8" r="4.2" fill="#666666"/>
<circle cx="438.6" cy="1422.0" r="4.2" fill="#666666"/>
<circle cx="454.3" cy="1425.8" r="4.2" fill="#666666"/>
<circle cx="438.6" cy="1440.0" r="4.2" fill="#666666"/>
<circle cx="454.3" cy="1445.7" r="4.2" fill="#666666"/>
<circle cx="446.3" cy="1457.6" r="4.2" fill="#666666"/>
<circle cx="446.3" cy="1493.2" r="4.2" fill="#666666"/>
<circle cx="446.3" cy="1539.0" r="4.2" fill="#666666"/>
<circle cx="562.3" cy="1436.5" r="4.2" fill="#666666"/>
<circle cx="562.3" cy="1459.9" r="4.2" fill="#666666"/>
<circle cx="570.0" cy="1485.0" r="4.2" fill="#666666"/>
<circle cx="554.3" cy="1491.7" r="4.2" fill="#666666"/>
<circle cx="570.0" cy="1508.4" r="4.2" fill="#666666"/>
<circle cx="554.3" cy="1515.3" r="4.2" fill="#666666"/>
<circle cx="562.3" cy="1537.7" r="4.2" fill="#666666"/>
<circle cx="562.3" cy="1561.9" r="4.2" fill="#666666"/>
<circle cx="677.9" cy="1426.3" r="4.2" fill="#666666"/>
<circle cx="677.9" cy="1459.4" r="4.2" fill="#666666"/>
<circle cx="669.9" cy="1473.8" r="4.2" fill="#666666"/>
<circle cx="685.9" cy="1471.1" r="4.2" fill="#666666"/>
<circle cx="677.9" cy="1498.7" r="4.2" fill="#666666"/>
<circle cx="677.9" cy="1518.3" r="4.2" fill="#666666"/>
<circle cx="685.9" cy="1529.5" r="4.2" fill="#666666"/>
<circle cx="669.9" cy="1532.3" r="4.2" fill="#666666"/>
<circle cx="793.4" cy="1457.4" r="4.2" fill="#666666"/>
<circle cx="793.4" cy="1508.4" r="4.2" fill="#666666"/>
<circle cx="785.4" cy="1521.6" r="4.2" fill="#666666"/>
<circle cx="801.6" cy="1521.6" r="4.2" fill="#666666"/>
<circle cx="785.4" cy="1536.5" r="4.2" fill="#666666"/>
<circle cx="801.6" cy="1537.7" r="4.2" fill="#666666"/>
<circle cx="793.4" cy="1563.9" r="4.2" fill="#666666"/>
<circle cx="909.1" cy="1430.7" r="4.2" fill="#666666"/>
<circle cx="909.1" cy="1444.4" r="4.2" fill="#666666"/>
<circle cx="909.1" cy="1457.4" r="4.2" fill="#666666"/>
<circle cx="909.1" cy="1515.8" r="4.2" fill="#666666"/>
<circle cx="909.1" cy="1525.3" r="4.2" fill="#666666"/>
<circle cx="909.1" cy="1535.3" r="4.2" fill="#666666"/>
<circle cx="909.1" cy="1560.9" r="4.2" fill="#666666"/>
<circle cx="909.1" cy="1683.8" r="4.2" fill="#666666"/>
<circle cx="1024.8" cy="1339.9" r="4.2" fill="#666666"/>
<circle cx="1024.8" cy="1370.3" r="4.2" fill="#666666"/>
<circle cx="1032.5" cy="1422.8" r="4.2" fill="#666666"/>
<circle cx="1016.8" cy="1428.7" r="4.2" fill="#666666"/>
<circle cx="1016.8" cy="1442.4" r="4.2" fill="#666666"/>
<circle cx="1032.5" cy="1440.7" r="4.2" fill="#666666"/>
<circle cx="1024.8" cy="1460.1" r="4.2" fill="#666666"/>
<circle cx="1024.8" cy="1514.9" r="4.2" fill="#666666"/>
<line x1="215.1" y1="1404.6" x2="215.1" y2="1426.5" stroke="#5f5f5f" stroke-width="2.2"/>
<line x1="195.8" y1="1404.6" x2="234.4" y2="1404.6" stroke="#5f5f5f" stroke-width="2.2"/>
<line x1="195.8" y1="1426.5" x2="234.4" y2="1426.5" stroke="#5f5f5f" stroke-width="2.2"/>
<line x1="330.8" y1="1417.6" x2="330.8" y2="1441.0" stroke="#5f5f5f" stroke-width="2.2"/>
<line x1="311.5" y1="1417.6" x2="350.1" y2="1417.6" stroke="#5f5f5f" stroke-width="2.2"/>
<line x1="311.5" y1="1441.0" x2="350.1" y2="1441.0" stroke="#5f5f5f" stroke-width="2.2"/>
<line x1="446.3" y1="1438.7" x2="446.3" y2="1469.3" stroke="#5f5f5f" stroke-width="2.2"/>
<line x1="427.0" y1="1438.7" x2="465.6" y2="1438.7" stroke="#5f5f5f" stroke-width="2.2"/>
<line x1="427.0" y1="1469.3" x2="465.6" y2="1469.3" stroke="#5f5f5f" stroke-width="2.2"/>
<line x1="562.3" y1="1485.0" x2="562.3" y2="1513.6" stroke="#5f5f5f" stroke-width="2.2"/>
<line x1="543.0" y1="1485.0" x2="581.6" y2="1485.0" stroke="#5f5f5f" stroke-width="2.2"/>
<line x1="543.0" y1="1513.6" x2="581.6" y2="1513.6" stroke="#5f5f5f" stroke-width="2.2"/>
<line x1="677.9" y1="1475.5" x2="677.9" y2="1502.2" stroke="#5f5f5f" stroke-width="2.2"/>
<line x1="658.6" y1="1475.5" x2="697.2" y2="1475.5" stroke="#5f5f5f" stroke-width="2.2"/>
<line x1="658.6" y1="1502.2" x2="697.2" y2="1502.2" stroke="#5f5f5f" stroke-width="2.2"/>
<line x1="793.4" y1="1508.6" x2="793.4" y2="1533.5" stroke="#5f5f5f" stroke-width="2.2"/>
<line x1="774.1" y1="1508.6" x2="812.7" y2="1508.6" stroke="#5f5f5f" stroke-width="2.2"/>
<line x1="774.1" y1="1533.5" x2="812.7" y2="1533.5" stroke="#5f5f5f" stroke-width="2.2"/>
<line x1="909.1" y1="1490.5" x2="909.1" y2="1548.0" stroke="#5f5f5f" stroke-width="2.2"/>
<line x1="889.8" y1="1490.5" x2="928.4" y2="1490.5" stroke="#5f5f5f" stroke-width="2.2"/>
<line x1="889.8" y1="1548.0" x2="928.4" y2="1548.0" stroke="#5f5f5f" stroke-width="2.2"/>
<line x1="1024.8" y1="1408.6" x2="1024.8" y2="1446.7" stroke="#5f5f5f" stroke-width="2.2"/>
<line x1="1005.5" y1="1408.6" x2="1044.1" y2="1408.6" stroke="#5f5f5f" stroke-width="2.2"/>
<line x1="1005.5" y1="1446.7" x2="1044.1" y2="1446.7" stroke="#5f5f5f" stroke-width="2.2"/>
<text x="271.5" y="1297.5" font-size="29"><tspan font-style="italic">P</tspan> = 0.44</text>
<text x="395.5" y="1297.5" font-size="29"><tspan font-style="italic">P</tspan> = 0.05</text>
<text x="563.3" y="1301.8" font-size="30" text-anchor="middle" letter-spacing="2.2">***</text>
<text x="679.0" y="1301.8" font-size="30" text-anchor="middle" letter-spacing="2.2">***</text>
<text x="790.6" y="1301.8" font-size="30" text-anchor="middle" letter-spacing="2.2">***</text>
<text x="910.4" y="1301.8" font-size="30" text-anchor="middle" letter-spacing="2.2">***</text>
<text x="969.8" y="1297.5" font-size="29"><tspan font-style="italic">P</tspan> = 0.56</text>
<text x="330.5" y="1800.8" font-size="29" text-anchor="middle">2</text>
<text x="442.7" y="1800.8" font-size="29" text-anchor="middle">5</text>
<text x="562.5" y="1800.8" font-size="29" text-anchor="middle">10</text>
<text x="677.9" y="1800.8" font-size="29" text-anchor="middle">2</text>
<text x="793.6" y="1800.8" font-size="29" text-anchor="middle">5</text>
<line x1="314.0" y1="1811.4" x2="580.3" y2="1811.4" stroke="#222" stroke-width="1.6"/>
<line x1="655.8" y1="1811.4" x2="807.4" y2="1811.4" stroke="#222" stroke-width="1.6"/>
<text x="447.2" y="1848.4" font-size="29" text-anchor="middle">Ketamine (mg kg<tspan font-size="19.5" dy="-13">&#8722;1</tspan><tspan dy="13">)</tspan></text>
<text x="731.0" y="1848.4" font-size="29" text-anchor="middle">DCK (mg kg<tspan font-size="19.5" dy="-13">&#8722;1</tspan><tspan dy="13">)</tspan></text>
<text x="224.0" y="1789.0" font-size="29" text-anchor="end" transform="rotate(-45 224.0 1789.0)">Saline</text>
<text x="929.0" y="1797.0" font-size="29" text-anchor="end" transform="rotate(-45 929.0 1797.0)">2C-DCK (5 mg kg<tspan font-size="19.5" dy="-13">&#8722;1</tspan><tspan dy="13">)</tspan></text>
<text x="1045.0" y="1797.0" font-size="29" text-anchor="end" transform="rotate(-45 1045.0 1797.0)">3&#8242;-Cl-K (10 mg kg<tspan font-size="19.5" dy="-13">&#8722;1</tspan><tspan dy="13">)</tspan></text>
<rect x="1386.6" y="1527.7" width="72.9" height="248.8" fill="#000000"/>
<rect x="1497.4" y="1459.9" width="72.8" height="316.6" fill="#0f9ab5"/>
<rect x="1608.0" y="1455.7" width="73.4" height="320.8" fill="#9d0000"/>
<line x1="1350.0" y1="1350.0" x2="1350.0" y2="1776.5" stroke="#222" stroke-width="1.8"/>
<line x1="1333.0" y1="1350.0" x2="1350.0" y2="1350.0" stroke="#222" stroke-width="1.8"/>
<text x="1322.6" y="1360.2" font-size="29" text-anchor="end">100</text>
<line x1="1333.0" y1="1435.5" x2="1350.0" y2="1435.5" stroke="#222" stroke-width="1.8"/>
<text x="1322.6" y="1445.7" font-size="29" text-anchor="end">80</text>
<line x1="1333.0" y1="1520.5" x2="1350.0" y2="1520.5" stroke="#222" stroke-width="1.8"/>
<text x="1322.6" y="1530.7" font-size="29" text-anchor="end">60</text>
<line x1="1333.0" y1="1606.0" x2="1350.0" y2="1606.0" stroke="#222" stroke-width="1.8"/>
<text x="1322.6" y="1616.2" font-size="29" text-anchor="end">40</text>
<line x1="1333.0" y1="1691.0" x2="1350.0" y2="1691.0" stroke="#222" stroke-width="1.8"/>
<text x="1322.6" y="1701.2" font-size="29" text-anchor="end">20</text>
<line x1="1333.0" y1="1776.5" x2="1350.0" y2="1776.5" stroke="#222" stroke-width="1.8"/>
<text x="1322.6" y="1786.7" font-size="29" text-anchor="end">0</text>
<line x1="1333.2" y1="1776.5" x2="1720.5" y2="1776.5" stroke="#222" stroke-width="1.8"/>
<text x="1257.5" y="1566.8" font-size="29" text-anchor="middle" transform="rotate(-90 1257.5 1566.8)">Sucrose preference (%)</text>
<circle cx="1423.3" cy="1399.3" r="4.2" fill="#666666"/>
<circle cx="1423.3" cy="1440.5" r="4.2" fill="#666666"/>
<circle cx="1414.8" cy="1462.4" r="4.2" fill="#666666"/>
<circle cx="1431.7" cy="1460.7" r="4.2" fill="#666666"/>
<circle cx="1423.3" cy="1503.7" r="4.2" fill="#666666"/>
<circle cx="1423.3" cy="1524.7" r="4.2" fill="#666666"/>
<circle cx="1423.3" cy="1533.2" r="4.2" fill="#666666"/>
<circle cx="1414.8" cy="1551.3" r="4.2" fill="#666666"/>
<circle cx="1431.7" cy="1558.4" r="4.2" fill="#666666"/>
<circle cx="1414.8" cy="1562.6" r="4.2" fill="#666666"/>
<circle cx="1431.7" cy="1577.4" r="4.2" fill="#666666"/>
<circle cx="1414.8" cy="1579.5" r="4.2" fill="#666666"/>
<circle cx="1414.8" cy="1616.5" r="4.2" fill="#666666"/>
<circle cx="1431.7" cy="1612.3" r="4.2" fill="#666666"/>
<circle cx="1534.0" cy="1396.3" r="4.2" fill="#666666"/>
<circle cx="1550.8" cy="1406.0" r="4.2" fill="#666666"/>
<circle cx="1534.0" cy="1411.1" r="4.2" fill="#666666"/>
<circle cx="1534.0" cy="1419.5" r="4.2" fill="#666666"/>
<circle cx="1534.0" cy="1435.5" r="4.2" fill="#666666"/>
<circle cx="1550.8" cy="1439.7" r="4.2" fill="#666666"/>
<circle cx="1534.0" cy="1444.7" r="4.2" fill="#666666"/>
<circle cx="1517.2" cy="1473.4" r="4.2" fill="#666666"/>
<circle cx="1534.0" cy="1473.4" r="4.2" fill="#666666"/>
<circle cx="1550.8" cy="1477.2" r="4.2" fill="#666666"/>
<circle cx="1534.0" cy="1479.3" r="4.2" fill="#666666"/>
<circle cx="1534.0" cy="1495.3" r="4.2" fill="#666666"/>
<circle cx="1525.6" cy="1549.2" r="4.2" fill="#666666"/>
<circle cx="1542.4" cy="1549.2" r="4.2" fill="#666666"/>
<circle cx="1627.9" cy="1406.0" r="4.2" fill="#666666"/>
<circle cx="1644.7" cy="1403.9" r="4.2" fill="#666666"/>
<circle cx="1644.7" cy="1412.3" r="4.2" fill="#666666"/>
<circle cx="1636.3" cy="1449.8" r="4.2" fill="#666666"/>
<circle cx="1653.2" cy="1445.6" r="4.2" fill="#666666"/>
<circle cx="1627.9" cy="1459.5" r="4.2" fill="#666666"/>
<circle cx="1644.7" cy="1462.8" r="4.2" fill="#666666"/>
<circle cx="1661.6" cy="1460.7" r="4.2" fill="#666666"/>
<circle cx="1644.7" cy="1487.7" r="4.2" fill="#666666"/>
<circle cx="1644.7" cy="1503.7" r="4.2" fill="#666666"/>
<circle cx="1644.7" cy="1517.6" r="4.2" fill="#666666"/>
<line x1="1423.4" y1="1510.0" x2="1423.4" y2="1545.0" stroke="#5f5f5f" stroke-width="2.2"/>
<line x1="1405.5" y1="1510.0" x2="1441.3" y2="1510.0" stroke="#5f5f5f" stroke-width="2.2"/>
<line x1="1405.5" y1="1545.0" x2="1441.3" y2="1545.0" stroke="#5f5f5f" stroke-width="2.2"/>
<line x1="1534.0" y1="1446.0" x2="1534.0" y2="1473.4" stroke="#5f5f5f" stroke-width="2.2"/>
<line x1="1516.1" y1="1446.0" x2="1551.9" y2="1446.0" stroke="#5f5f5f" stroke-width="2.2"/>
<line x1="1516.1" y1="1473.4" x2="1551.9" y2="1473.4" stroke="#5f5f5f" stroke-width="2.2"/>
<line x1="1644.8" y1="1444.3" x2="1644.8" y2="1467.0" stroke="#5f5f5f" stroke-width="2.2"/>
<line x1="1626.9" y1="1444.3" x2="1662.7" y2="1444.3" stroke="#5f5f5f" stroke-width="2.2"/>
<line x1="1626.9" y1="1467.0" x2="1662.7" y2="1467.0" stroke="#5f5f5f" stroke-width="2.2"/>
<line x1="1424.5" y1="1284.7" x2="1639.3" y2="1284.7" stroke="#222" stroke-width="1.6"/>
<text x="1531.1" y="1285.2" font-size="30" text-anchor="middle" letter-spacing="2.2">**</text>
<line x1="1414.0" y1="1340.7" x2="1521.4" y2="1340.7" stroke="#222" stroke-width="1.6"/>
<text x="1466.6" y="1341.2" font-size="30" text-anchor="middle" letter-spacing="2.2">**</text>
<line x1="1544.5" y1="1340.7" x2="1652.3" y2="1340.7" stroke="#222" stroke-width="1.6"/>
<text x="1539.5" y="1329.8" font-size="29"><tspan font-style="italic">P</tspan> = 0.83</text>
<text x="1442.0" y="1804.0" font-size="29" text-anchor="end" transform="rotate(-45 1442.0 1804.0)">Saline</text>
<text x="1545.0" y="1806.0" font-size="29" text-anchor="end" transform="rotate(-45 1545.0 1806.0)">DCK (2 mg kg<tspan font-size="19.5" dy="-13">&#8722;1</tspan><tspan dy="13">)</tspan></text>
<text x="1665.0" y="1806.0" font-size="29" text-anchor="end" transform="rotate(-45 1665.0 1806.0)">Ketamine (10 mg kg<tspan font-size="19.5" dy="-13">&#8722;1</tspan><tspan dy="13">)</tspan></text>
<path d="M967.0,471.3 L981.0,467.4 L991.6,465.0 L999.3,462.8 L1004.9,462.5 L1009.1,469.4 L1011.9,473.5 L1016.1,467.7 L1021.0,464.0 L1026.6,464.5 L1030.1,469.2 L1035.8,468.3 L1044.2,467.3 L1048.4,467.8 L1056.1,459.1 L1063.8,463.7 L1072.2,460.6 L1079.2,450.5 L1086.3,449.5 L1093.3,443.6 L1100.0,439.1 L1103.7,436.8 L1108.6,435.5 L1113.5,434.3 L1119.6,428.2 L1125.7,425.7 L1133.0,423.2 L1140.3,424.4 L1145.1,421.9 L1150.0,417.0 L1157.3,410.9 L1167.1,407.1 L1174.4,412.0 L1181.7,414.4 L1189.0,413.1 L1195.1,413.0 L1198.7,414.2 L1202.4,406.9 L1207.2,411.7 L1212.1,408.1 L1217.0,411.7 L1223.1,409.2 L1228.0,409.2 L1234.0,405.5 L1238.9,414.0 L1245.0,412.7 L1249.9,410.2 L1254.8,413.9 L1258.4,419.9 L1264.5,421.1 L1270.6,417.4 L1276.7,416.2 L1281.5,421.0 L1286.4,425.8 L1291.3,419.7 L1296.2,417.2 L1302.3,423.3 L1307.1,426.9 L1312.0,422.0 L1316.9,420.8 L1323.0,425.6 L1329.0,423.1 L1333.9,418.2 L1340.0,415.7 L1347.3,418.1 L1354.6,413.2 L1361.9,416.8 L1369.2,410.7 L1376.5,411.8 L1383.8,410.6 L1391.2,411.7 L1398.5,412.9 L1405.8,417.7 L1413.1,415.1 L1420.4,423.5 L1425.3,428.2 L1432.6,424.4 L1439.9,418.2 L1447.2,412.0 L1454.5,415.5 L1461.8,409.2 L1469.1,411.5 L1476.4,410.2 L1483.7,416.1 L1491.0,412.3 L1500.8,413.3 L1510.5,415.6 L1520.3,409.3 L1525.1,406.7 L1530.0,412.7 L1537.3,416.2 L1544.6,412.4 L1554.4,413.5 L1561.7,415.8 L1569.0,426.6 L1576.3,431.3 L1583.6,434.8 L1590.9,428.6 L1598.2,413.8 L1603.1,408.8 L1610.4,416.0 L1617.7,413.4 L1625.0,407.1 L1632.3,410.6 L1639.6,406.8 L1646.9,405.4 L1654.2,404.0 L1661.5,412.4 L1668.9,421.9 L1676.2,426.7 L1687.1,430.1 L1687.1,466.0 L1676.2,462.1 L1668.9,457.1 L1661.5,447.2 L1654.2,438.5 L1646.9,439.5 L1639.6,440.6 L1632.3,444.1 L1625.0,440.2 L1617.7,446.2 L1610.4,448.4 L1603.1,441.0 L1598.2,445.7 L1590.9,460.2 L1583.6,466.1 L1576.3,462.3 L1569.0,457.3 L1561.7,446.2 L1554.4,443.6 L1544.6,442.2 L1537.3,445.7 L1530.0,441.9 L1525.1,435.7 L1520.3,438.1 L1510.5,444.0 L1500.8,441.3 L1491.0,439.9 L1483.7,443.4 L1476.4,437.2 L1469.1,438.3 L1461.8,435.7 L1454.5,441.6 L1447.2,437.8 L1439.9,443.8 L1432.6,449.7 L1425.3,453.2 L1420.4,448.3 L1413.1,439.6 L1405.8,441.9 L1398.5,436.9 L1391.2,435.6 L1383.8,434.4 L1376.5,435.5 L1369.2,434.3 L1361.9,440.3 L1354.6,436.6 L1347.3,441.4 L1340.0,438.9 L1333.9,441.3 L1329.0,446.2 L1323.0,448.6 L1316.9,443.7 L1312.0,444.8 L1307.1,449.7 L1302.3,446.0 L1296.2,439.9 L1291.3,442.3 L1286.4,448.3 L1281.5,443.4 L1276.7,438.5 L1270.6,439.7 L1264.5,443.3 L1258.4,442.0 L1254.8,435.9 L1249.9,432.2 L1245.0,434.6 L1238.9,435.8 L1234.0,427.3 L1228.0,430.9 L1223.1,430.8 L1217.0,433.2 L1212.1,429.6 L1207.2,433.2 L1202.4,428.3 L1198.7,435.6 L1195.1,434.3 L1189.0,434.3 L1181.7,435.4 L1174.4,433.0 L1167.1,428.0 L1157.3,431.6 L1150.0,437.7 L1145.1,442.5 L1140.3,444.9 L1133.0,443.6 L1125.7,446.0 L1119.6,448.4 L1113.5,454.5 L1108.6,455.7 L1103.7,456.8 L1100.0,459.1 L1093.3,463.0 L1086.3,468.4 L1079.2,468.8 L1072.2,478.3 L1063.8,480.8 L1056.1,475.6 L1048.4,483.7 L1044.2,482.8 L1035.8,483.2 L1030.1,483.7 L1026.6,478.6 L1021.0,477.7 L1016.1,481.0 L1011.9,486.4 L1009.1,482.1 L1004.9,474.9 L999.3,474.7 L991.6,475.3 L981.0,475.7 L967.0,477.3Z" fill="#e9e9e9" stroke="#e9e9e9" stroke-width="5" stroke-linejoin="round"/>
<path d="M968.4,468.5 L974.0,466.8 L983.1,464.1 L989.5,463.0 L993.7,458.5 L999.3,458.9 L1004.9,457.9 L1010.5,454.1 L1018.2,450.2 L1023.1,452.1 L1026.6,458.9 L1030.1,455.2 L1034.3,449.4 L1037.9,445.0 L1040.7,435.1 L1044.2,420.8 L1048.4,406.6 L1053.3,392.3 L1054.8,381.4 L1058.2,369.8 L1060.5,353.8 L1062.7,340.0 L1067.3,333.0 L1071.8,321.4 L1077.5,308.6 L1082.0,307.4 L1085.5,299.4 L1090.0,298.3 L1091.5,295.3 L1096.4,292.9 L1101.3,294.2 L1106.2,291.7 L1111.0,290.5 L1115.9,293.0 L1119.6,296.7 L1123.2,290.6 L1128.1,289.4 L1133.0,293.0 L1137.8,299.1 L1142.7,294.3 L1147.6,298.0 L1152.4,300.4 L1156.1,302.9 L1162.2,306.5 L1167.1,311.4 L1171.9,318.7 L1175.6,324.8 L1180.5,322.4 L1184.1,321.2 L1187.8,329.8 L1191.4,334.6 L1195.1,332.2 L1198.7,342.0 L1202.4,348.1 L1208.5,349.3 L1214.6,346.9 L1219.4,354.2 L1225.5,355.4 L1231.6,362.8 L1237.7,368.9 L1242.6,368.9 L1247.4,370.1 L1252.3,375.0 L1258.4,375.0 L1263.3,375.1 L1268.1,381.2 L1273.0,384.8 L1277.9,382.4 L1282.8,384.9 L1288.9,387.3 L1296.2,388.6 L1302.3,392.2 L1309.6,394.7 L1315.7,397.1 L1319.3,399.6 L1323.0,403.3 L1329.0,397.2 L1333.9,403.3 L1341.2,402.1 L1347.3,403.3 L1354.6,405.8 L1361.9,404.6 L1369.2,407.1 L1376.5,407.1 L1383.8,409.5 L1391.2,409.6 L1398.5,412.0 L1405.8,410.7 L1413.1,409.5 L1420.4,408.2 L1427.7,409.3 L1435.0,410.5 L1442.3,410.4 L1449.6,414.0 L1456.9,415.1 L1464.2,411.4 L1471.5,411.3 L1478.9,413.7 L1486.2,416.0 L1493.5,418.4 L1500.8,419.5 L1508.1,417.0 L1515.4,420.6 L1522.7,421.8 L1530.0,425.3 L1537.3,426.5 L1544.6,425.2 L1551.9,427.6 L1559.2,422.6 L1566.5,429.8 L1573.8,431.0 L1581.2,428.5 L1588.5,434.5 L1595.8,433.2 L1603.1,435.5 L1610.4,437.8 L1617.7,436.4 L1625.0,431.4 L1632.3,436.1 L1639.6,440.8 L1646.9,443.1 L1654.2,447.8 L1659.1,455.0 L1666.4,452.4 L1673.7,454.6 L1678.6,461.8 L1687.1,462.9 L1687.1,486.8 L1678.6,485.4 L1673.7,478.0 L1666.4,475.4 L1659.1,477.7 L1654.2,470.2 L1646.9,465.2 L1639.6,462.6 L1632.3,457.6 L1625.0,452.5 L1617.7,457.2 L1610.4,458.3 L1603.1,455.7 L1595.8,453.1 L1588.5,454.3 L1581.2,448.1 L1573.8,450.5 L1566.5,449.2 L1559.2,441.8 L1551.9,446.6 L1544.6,444.1 L1537.3,445.2 L1530.0,443.9 L1522.7,440.2 L1515.4,438.9 L1508.1,435.2 L1500.8,437.6 L1493.5,436.3 L1486.2,433.8 L1478.9,431.2 L1471.5,428.7 L1464.2,428.7 L1456.9,432.2 L1449.6,431.0 L1442.3,427.2 L1435.0,427.2 L1427.7,425.9 L1420.4,424.6 L1413.1,425.7 L1405.8,426.9 L1398.5,428.0 L1391.2,425.6 L1383.8,425.6 L1376.5,423.2 L1369.2,423.2 L1361.9,420.8 L1354.6,422.1 L1347.3,419.7 L1341.2,418.5 L1333.9,419.7 L1329.0,413.6 L1323.0,419.7 L1319.3,416.1 L1315.7,413.7 L1309.6,411.3 L1302.3,408.8 L1296.2,405.2 L1288.9,404.0 L1282.8,401.6 L1277.9,399.2 L1273.0,401.6 L1268.1,398.0 L1263.3,391.9 L1258.4,391.9 L1252.3,391.9 L1247.4,387.1 L1242.6,385.9 L1237.7,385.9 L1231.6,379.8 L1225.5,372.5 L1219.4,371.3 L1214.6,364.0 L1208.5,366.5 L1202.4,365.3 L1198.7,359.2 L1195.1,349.5 L1191.4,351.9 L1187.8,347.1 L1184.1,338.6 L1180.5,339.8 L1175.6,342.2 L1171.9,336.2 L1167.1,328.9 L1162.2,324.0 L1156.1,320.4 L1152.4,318.0 L1147.6,315.5 L1142.7,311.9 L1137.8,316.8 L1133.0,310.7 L1128.1,307.1 L1123.2,308.3 L1119.6,314.4 L1115.9,310.8 L1111.0,308.3 L1106.2,309.6 L1101.3,312.0 L1096.4,310.8 L1091.5,313.3 L1090.0,316.2 L1085.5,317.4 L1082.0,325.4 L1077.5,326.4 L1071.8,338.6 L1067.3,349.7 L1062.7,356.3 L1060.5,369.8 L1058.2,385.6 L1054.8,396.8 L1053.3,407.7 L1048.4,421.4 L1044.2,435.3 L1040.7,449.1 L1037.9,458.8 L1034.3,462.8 L1030.1,468.2 L1026.6,471.6 L1023.1,464.4 L1018.2,462.0 L1010.5,465.1 L1004.9,468.4 L999.3,468.8 L993.7,467.7 L989.5,471.7 L983.1,471.9 L974.0,473.5 L968.4,474.5Z" fill="#e9e9e9" stroke="#e9e9e9" stroke-width="5" stroke-linejoin="round"/>
<path d="M968.4,473.5 L977.5,470.9 L988.1,473.2 L996.5,472.1 L1002.1,475.3 L1007.7,484.9 L1014.7,491.3 L1020.3,484.3 L1025.2,477.8 L1030.1,475.5 L1035.8,473.1 L1040.7,463.1 L1044.2,452.0 L1048.4,433.7 L1052.6,414.0 L1056.8,393.6 L1058.2,375.4 L1061.6,347.6 L1065.0,316.3 L1068.4,287.4 L1072.3,245.3 L1077.5,212.0 L1082.7,182.6 L1087.9,155.8 L1093.1,136.8 L1099.6,116.3 L1104.8,94.7 L1110.0,82.2 L1115.2,75.6 L1120.4,66.5 L1125.6,65.8 L1130.0,63.8 L1145.1,63.9 L1152.4,68.7 L1159.7,73.5 L1167.1,82.0 L1174.4,89.2 L1181.7,97.6 L1187.8,104.9 L1192.6,113.4 L1198.7,121.8 L1204.8,131.5 L1210.9,140.0 L1218.2,149.6 L1225.5,159.3 L1232.8,169.0 L1240.1,177.4 L1247.4,184.6 L1252.3,188.2 L1257.2,190.6 L1264.5,196.6 L1271.8,202.7 L1276.7,207.5 L1282.8,215.9 L1287.6,213.5 L1292.5,209.7 L1297.4,217.0 L1303.5,225.4 L1310.8,232.5 L1316.9,237.2 L1321.7,235.8 L1326.6,240.5 L1331.5,245.3 L1337.6,241.4 L1342.4,244.9 L1347.3,249.7 L1354.6,260.4 L1361.9,269.9 L1369.2,278.2 L1376.5,281.7 L1383.8,285.1 L1391.2,288.5 L1397.2,287.1 L1403.3,295.5 L1410.6,303.8 L1418.0,312.1 L1425.3,319.2 L1432.6,325.1 L1439.9,330.9 L1447.2,338.0 L1456.9,343.8 L1466.7,348.4 L1476.4,351.8 L1486.2,356.3 L1495.9,359.7 L1505.7,362.1 L1515.4,366.0 L1525.1,368.6 L1532.4,371.2 L1539.7,371.4 L1549.5,374.0 L1559.2,375.5 L1569.0,385.4 L1578.7,388.0 L1588.5,391.9 L1598.2,389.7 L1608.0,394.8 L1617.7,392.5 L1627.4,392.7 L1637.2,397.8 L1646.9,400.5 L1656.7,403.1 L1664.0,405.7 L1671.3,402.2 L1678.6,408.4 L1687.1,409.8 L1687.1,461.9 L1678.6,460.8 L1671.3,454.9 L1664.0,458.7 L1656.7,456.4 L1646.9,454.2 L1637.2,452.0 L1627.4,447.3 L1617.7,447.5 L1608.0,450.2 L1598.2,445.5 L1588.5,448.1 L1578.7,444.7 L1569.0,442.5 L1559.2,432.9 L1549.5,431.9 L1539.7,429.7 L1532.4,429.8 L1525.1,427.6 L1515.4,425.3 L1505.7,421.9 L1495.9,419.5 L1486.2,415.5 L1476.4,410.3 L1466.7,406.4 L1456.9,401.2 L1447.2,394.8 L1439.9,387.3 L1432.6,381.0 L1425.3,374.7 L1418.0,367.2 L1410.6,358.4 L1403.3,349.7 L1397.2,341.0 L1391.2,342.0 L1383.8,338.1 L1376.5,334.3 L1369.2,330.4 L1361.9,321.6 L1354.6,311.7 L1347.3,300.5 L1342.4,295.5 L1337.6,291.7 L1331.5,295.2 L1326.6,290.1 L1321.7,285.1 L1316.9,286.2 L1310.8,281.1 L1303.5,273.6 L1297.4,264.9 L1292.5,257.6 L1287.6,261.2 L1282.8,263.6 L1276.7,255.0 L1271.8,250.1 L1264.5,243.9 L1257.2,237.7 L1252.3,235.2 L1247.4,231.5 L1240.1,224.1 L1232.8,215.5 L1225.5,205.7 L1218.2,195.9 L1210.9,186.1 L1204.8,177.5 L1198.7,167.7 L1192.6,159.1 L1187.8,150.5 L1181.7,143.1 L1174.4,134.5 L1167.1,127.2 L1159.7,118.6 L1152.4,113.6 L1145.1,108.7 L1130.0,108.2 L1125.6,110.1 L1120.4,110.7 L1115.2,119.7 L1110.0,126.2 L1104.8,137.0 L1099.6,157.0 L1093.1,175.4 L1087.9,192.8 L1082.7,217.9 L1077.5,245.6 L1072.3,277.3 L1068.4,318.1 L1065.0,345.9 L1061.6,376.1 L1058.2,402.8 L1056.8,420.4 L1052.6,439.3 L1048.4,457.5 L1044.2,474.3 L1040.7,484.2 L1035.8,492.4 L1030.1,492.8 L1025.2,493.3 L1020.3,498.0 L1014.7,503.0 L1007.7,494.7 L1002.1,484.6 L996.5,480.8 L988.1,481.1 L977.5,477.8 L968.4,479.5Z" fill="#e9e9e9" stroke="#e9e9e9" stroke-width="5" stroke-linejoin="round"/>
<path d="M968.4,465.7 L981.0,466.6 L991.6,468.8 L997.2,465.1 L1003.5,469.7 L1009.1,479.2 L1014.7,482.1 L1021.7,474.5 L1030.1,473.6 L1034.3,466.9 L1036.5,450.9 L1038.6,436.2 L1040.7,421.6 L1042.8,400.0 L1044.2,385.6 L1044.5,383.7 L1046.8,361.5 L1049.1,338.1 L1051.4,314.8 L1059.4,249.4 L1062.6,216.0 L1065.8,182.7 L1069.7,155.8 L1073.6,136.6 L1077.5,117.4 L1081.4,100.8 L1086.6,83.8 L1091.8,69.5 L1098.3,58.7 L1106.1,50.5 L1113.9,48.0 L1121.7,50.6 L1126.9,54.5 L1142.7,62.4 L1148.8,62.4 L1154.9,66.1 L1159.7,69.8 L1167.1,74.7 L1171.9,77.6 L1176.8,78.4 L1182.9,77.2 L1186.5,82.1 L1191.4,90.6 L1198.7,99.2 L1204.8,109.0 L1210.9,120.0 L1218.2,126.1 L1225.5,131.0 L1232.8,135.9 L1240.1,139.6 L1246.2,145.7 L1254.8,150.6 L1262.1,155.5 L1269.4,162.9 L1276.7,170.2 L1285.2,175.1 L1291.3,180.0 L1298.6,185.0 L1305.9,190.0 L1313.2,196.2 L1320.5,202.4 L1327.8,209.9 L1335.1,214.9 L1342.4,219.9 L1349.7,226.1 L1359.5,233.7 L1369.2,241.2 L1379.0,246.2 L1388.7,251.3 L1396.0,253.9 L1403.3,260.1 L1413.1,265.2 L1422.8,270.2 L1432.6,274.1 L1442.3,277.9 L1452.1,280.6 L1461.8,286.9 L1471.5,288.3 L1481.3,292.1 L1491.0,294.7 L1500.8,299.8 L1510.5,303.8 L1520.3,306.5 L1530.0,311.7 L1539.7,315.7 L1549.5,318.4 L1559.2,323.6 L1569.0,328.8 L1578.7,332.8 L1588.5,337.9 L1595.8,345.5 L1603.1,343.3 L1612.8,347.3 L1622.6,350.0 L1632.3,350.3 L1642.1,354.3 L1651.8,359.5 L1661.5,357.3 L1668.9,361.2 L1676.2,366.3 L1687.1,366.7 L1687.1,402.7 L1676.2,403.1 L1668.9,398.4 L1661.5,395.0 L1651.8,397.8 L1642.1,393.2 L1632.3,389.9 L1622.6,390.2 L1612.8,388.0 L1603.1,384.7 L1595.8,387.4 L1588.5,380.3 L1578.7,375.7 L1569.0,372.4 L1559.2,367.8 L1549.5,363.3 L1539.7,361.1 L1530.0,357.8 L1520.3,353.2 L1510.5,351.1 L1500.8,347.8 L1491.0,343.1 L1481.3,340.9 L1471.5,337.4 L1461.8,336.4 L1452.1,330.5 L1442.3,328.2 L1432.6,324.8 L1422.8,321.3 L1413.1,316.7 L1403.3,312.0 L1396.0,306.0 L1388.7,303.7 L1379.0,299.1 L1369.2,294.4 L1359.5,287.3 L1349.7,280.2 L1342.4,274.2 L1335.1,269.5 L1327.8,264.8 L1320.5,257.6 L1313.2,251.7 L1305.9,245.7 L1298.6,241.0 L1291.3,236.1 L1285.2,231.3 L1276.7,226.5 L1269.4,219.2 L1262.1,211.9 L1254.8,207.1 L1246.2,202.3 L1240.1,196.2 L1232.8,192.6 L1225.5,187.7 L1218.2,182.9 L1210.9,176.8 L1204.8,165.9 L1198.7,156.2 L1191.4,147.7 L1186.5,139.2 L1182.9,134.4 L1176.8,135.6 L1171.9,134.9 L1167.1,132.0 L1159.7,127.2 L1154.9,123.5 L1148.8,119.9 L1142.7,119.9 L1126.9,112.2 L1121.7,108.4 L1113.9,105.8 L1106.1,108.4 L1098.3,115.8 L1091.8,123.2 L1086.6,134.9 L1081.4,149.1 L1077.5,163.7 L1073.6,180.8 L1069.7,198.0 L1065.8,223.0 L1062.6,254.6 L1059.4,286.2 L1051.4,347.5 L1049.1,369.6 L1046.8,391.7 L1044.5,412.7 L1044.2,414.4 L1042.8,428.0 L1040.7,448.5 L1038.6,462.0 L1036.5,475.4 L1034.3,490.3 L1030.1,494.7 L1021.7,491.0 L1014.7,494.7 L1009.1,489.1 L1003.5,479.0 L997.2,473.8 L991.6,477.0 L981.0,473.7 L968.4,471.7Z" fill="#e9e9e9" stroke="#e9e9e9" stroke-width="5" stroke-linejoin="round"/>
<polyline points="967.0,474.3 981.0,471.5 991.6,470.1 999.3,468.7 1004.9,468.7 1009.1,475.8 1011.9,480.0 1016.1,474.3 1021.0,470.8 1026.6,471.5 1030.1,476.5 1035.8,475.8 1044.2,475.1 1048.4,475.8 1056.1,467.3 1063.8,472.2 1072.2,469.4 1079.2,459.6 1086.3,458.9 1093.3,453.3 1100.0,449.1 1103.7,446.8 1108.6,445.6 1113.5,444.4 1119.6,438.3 1125.7,435.9 1133.0,433.4 1140.3,434.6 1145.1,432.2 1150.0,427.3 1157.3,421.2 1167.1,417.6 1174.4,422.5 1181.7,424.9 1189.0,423.7 1195.1,423.7 1198.7,424.9 1202.4,417.6 1207.2,422.5 1212.1,418.8 1217.0,422.5 1223.1,420.0 1228.0,420.0 1234.0,416.4 1238.9,424.9 1245.0,423.7 1249.9,421.2 1254.8,424.9 1258.4,431.0 1264.5,432.2 1270.6,428.6 1276.7,427.3 1281.5,432.2 1286.4,437.1 1291.3,431.0 1296.2,428.6 1302.3,434.6 1307.1,438.3 1312.0,433.4 1316.9,432.2 1323.0,437.1 1329.0,434.6 1333.9,429.8 1340.0,427.3 1347.3,429.8 1354.6,424.9 1361.9,428.6 1369.2,422.5 1376.5,423.7 1383.8,422.5 1391.2,423.7 1398.5,424.9 1405.8,429.8 1413.1,427.3 1420.4,435.9 1425.3,440.7 1432.6,437.1 1439.9,431.0 1447.2,424.9 1454.5,428.6 1461.8,422.5 1469.1,424.9 1476.4,423.7 1483.7,429.8 1491.0,426.1 1500.8,427.3 1510.5,429.8 1520.3,423.7 1525.1,421.2 1530.0,427.3 1537.3,431.0 1544.6,427.3 1554.4,428.6 1561.7,431.0 1569.0,441.9 1576.3,446.8 1583.6,450.5 1590.9,444.4 1598.2,429.8 1603.1,424.9 1610.4,432.2 1617.7,429.8 1625.0,423.7 1632.3,427.3 1639.6,423.7 1646.9,422.5 1654.2,421.2 1661.5,429.8 1668.9,439.5 1676.2,444.4 1687.1,448.0" fill="none" stroke="#232323" stroke-width="4.6" stroke-linejoin="round" stroke-linecap="round"/>
<polyline points="968.4,476.5 977.5,474.3 988.1,477.2 996.5,476.5 1002.1,480.0 1007.7,489.8 1014.7,497.1 1020.3,491.2 1025.2,485.6 1030.1,484.2 1035.8,482.8 1040.7,473.6 1044.2,463.1 1048.4,445.6 1052.6,426.7 1056.8,407.0 1058.2,389.1 1061.6,361.8 1065.0,331.1 1068.4,302.7 1072.3,261.3 1077.5,228.8 1082.7,200.3 1087.9,174.3 1093.1,156.1 1099.6,136.6 1104.8,115.8 1110.0,104.2 1115.2,97.7 1120.4,88.6 1125.6,87.9 1130.0,86.0 1145.1,86.3 1152.4,91.2 1159.7,96.0 1167.1,104.6 1174.4,111.9 1181.7,120.4 1187.8,127.7 1192.6,136.2 1198.7,144.8 1204.8,154.5 1210.9,163.0 1218.2,172.8 1225.5,182.5 1232.8,192.3 1240.1,200.8 1247.4,208.1 1252.3,211.7 1257.2,214.2 1264.5,220.3 1271.8,226.4 1276.7,231.2 1282.8,239.8 1287.6,237.3 1292.5,233.7 1297.4,241.0 1303.5,249.5 1310.8,256.8 1316.9,261.7 1321.7,260.5 1326.6,265.3 1331.5,270.2 1337.6,266.6 1342.4,270.2 1347.3,275.1 1354.6,286.0 1361.9,295.8 1369.2,304.3 1376.5,308.0 1383.8,311.6 1391.2,315.3 1397.2,314.1 1403.3,322.6 1410.6,331.1 1418.0,339.6 1425.3,346.9 1432.6,353.0 1439.9,359.1 1447.2,366.4 1456.9,372.5 1466.7,377.4 1476.4,381.0 1486.2,385.9 1495.9,389.6 1505.7,392.0 1515.4,395.7 1525.1,398.1 1532.4,400.5 1539.7,400.5 1549.5,403.0 1559.2,404.2 1569.0,413.9 1578.7,416.4 1588.5,420.0 1598.2,417.6 1608.0,422.5 1617.7,420.0 1627.4,420.0 1637.2,424.9 1646.9,427.3 1656.7,429.8 1664.0,432.2 1671.3,428.6 1678.6,434.6 1687.1,435.9" fill="none" stroke="#065d7a" stroke-width="4.6" stroke-linejoin="round" stroke-linecap="round"/>
<polyline points="968.4,468.7 981.0,470.1 991.6,472.9 997.2,469.4 1003.5,474.3 1009.1,484.2 1014.7,488.4 1021.7,482.8 1030.1,484.2 1034.3,478.6 1036.5,463.1 1038.6,449.1 1040.7,435.1 1042.8,414.0 1044.2,400.0 1044.5,398.2 1046.8,376.6 1049.1,353.9 1051.4,331.1 1059.4,267.8 1062.6,235.3 1065.8,202.9 1069.7,176.9 1073.6,158.7 1077.5,140.5 1081.4,124.9 1086.6,109.4 1091.8,96.4 1098.3,87.3 1106.1,79.5 1113.9,76.9 1121.7,79.5 1126.9,83.4 1142.7,91.2 1148.8,91.2 1154.9,94.8 1159.7,98.5 1167.1,103.3 1171.9,106.3 1176.8,107.0 1182.9,105.8 1186.5,110.6 1191.4,119.2 1198.7,127.7 1204.8,137.4 1210.9,148.4 1218.2,154.5 1225.5,159.4 1232.8,164.2 1240.1,167.9 1246.2,174.0 1254.8,178.9 1262.1,183.7 1269.4,191.0 1276.7,198.3 1285.2,203.2 1291.3,208.1 1298.6,213.0 1305.9,217.8 1313.2,223.9 1320.5,230.0 1327.8,237.3 1335.1,242.2 1342.4,247.1 1349.7,253.2 1359.5,260.5 1369.2,267.8 1379.0,272.6 1388.7,277.5 1396.0,280.0 1403.3,286.0 1413.1,290.9 1422.8,295.8 1432.6,299.4 1442.3,303.1 1452.1,305.5 1461.8,311.6 1471.5,312.8 1481.3,316.5 1491.0,318.9 1500.8,323.8 1510.5,327.5 1520.3,329.9 1530.0,334.8 1539.7,338.4 1549.5,340.9 1559.2,345.7 1569.0,350.6 1578.7,354.3 1588.5,359.1 1595.8,366.4 1603.1,364.0 1612.8,367.6 1622.6,370.1 1632.3,370.1 1642.1,373.7 1651.8,378.6 1661.5,376.2 1668.9,379.8 1676.2,384.7 1687.1,384.7" fill="none" stroke="#0a9464" stroke-width="4.6" stroke-linejoin="round" stroke-linecap="round"/>
<polyline points="968.4,471.5 974.0,470.1 983.1,468.0 989.5,467.3 993.7,463.1 999.3,463.8 1004.9,463.1 1010.5,459.6 1018.2,456.1 1023.1,458.2 1026.6,465.2 1030.1,461.7 1034.3,456.1 1037.9,451.9 1040.7,442.1 1044.2,428.1 1048.4,414.0 1053.3,400.0 1054.8,389.1 1058.2,377.7 1060.5,361.8 1062.7,348.2 1067.3,341.4 1071.8,330.0 1077.5,317.5 1082.0,316.4 1085.5,308.4 1090.0,307.3 1091.5,304.3 1096.4,301.9 1101.3,303.1 1106.2,300.7 1111.0,299.4 1115.9,301.9 1119.6,305.5 1123.2,299.4 1128.1,298.2 1133.0,301.9 1137.8,308.0 1142.7,303.1 1147.6,306.7 1152.4,309.2 1156.1,311.6 1162.2,315.3 1167.1,320.1 1171.9,327.5 1175.6,333.5 1180.5,331.1 1184.1,329.9 1187.8,338.4 1191.4,343.3 1195.1,340.9 1198.7,350.6 1202.4,356.7 1208.5,357.9 1214.6,355.5 1219.4,362.8 1225.5,364.0 1231.6,371.3 1237.7,377.4 1242.6,377.4 1247.4,378.6 1252.3,383.5 1258.4,383.5 1263.3,383.5 1268.1,389.6 1273.0,393.2 1277.9,390.8 1282.8,393.2 1288.9,395.7 1296.2,396.9 1302.3,400.5 1309.6,403.0 1315.7,405.4 1319.3,407.8 1323.0,411.5 1329.0,405.4 1333.9,411.5 1341.2,410.3 1347.3,411.5 1354.6,413.9 1361.9,412.7 1369.2,415.2 1376.5,415.2 1383.8,417.6 1391.2,417.6 1398.5,420.0 1405.8,418.8 1413.1,417.6 1420.4,416.4 1427.7,417.6 1435.0,418.8 1442.3,418.8 1449.6,422.5 1456.9,423.7 1464.2,420.0 1471.5,420.0 1478.9,422.5 1486.2,424.9 1493.5,427.3 1500.8,428.6 1508.1,426.1 1515.4,429.8 1522.7,431.0 1530.0,434.6 1537.3,435.9 1544.6,434.6 1551.9,437.1 1559.2,432.2 1566.5,439.5 1573.8,440.7 1581.2,438.3 1588.5,444.4 1595.8,443.2 1603.1,445.6 1610.4,448.0 1617.7,446.8 1625.0,441.9 1632.3,446.8 1639.6,451.7 1646.9,454.1 1654.2,459.0 1659.1,466.3 1666.4,463.9 1673.7,466.3 1678.6,473.6 1687.1,474.8" fill="none" stroke="#a00a28" stroke-width="4.6" stroke-linejoin="round" stroke-linecap="round"/>
<line x1="1418.4" y1="61.7" x2="1482.0" y2="61.7" stroke="#232323" stroke-width="4.4"/>
<text x="1494.5" y="71.2" font-size="29">3&#8242;-Cl-K</text>
<line x1="1418.4" y1="101.2" x2="1482.0" y2="101.2" stroke="#a00a28" stroke-width="4.4"/>
<text x="1494.5" y="110.7" font-size="29">Ketamine</text>
<line x1="1418.4" y1="140.3" x2="1482.0" y2="140.3" stroke="#065d7a" stroke-width="4.4"/>
<text x="1494.5" y="149.8" font-size="29">DCK</text>
<line x1="1418.4" y1="179.4" x2="1482.0" y2="179.4" stroke="#0a9464" stroke-width="4.4"/>
<text x="1494.5" y="188.9" font-size="29">2C-DCK</text>
<line x1="1015.5" y1="397.0" x2="1015.5" y2="436.0" stroke="#5f5f5f" stroke-width="2.2"/>
<path d="M1010,431 L1021,431 L1015.5,445.6 Z" fill="#5f5f5f"/>
<path d="M941.5,467.5 L941.5,518.7 L1013.8,518.7" fill="none" stroke="#111" stroke-width="2"/>
<text x="942.5" y="548.0" font-size="29">5 min</text>
<text x="929.0" y="486.0" font-size="29" text-anchor="middle" transform="rotate(-90 929.0 486.0)">&#916;<tspan font-style="italic">F</tspan>/<tspan font-style="italic">F</tspan> 5%</text>
<path d="M539.5,1068.9 L546.4,1072.0 L553.2,1070.4 L560.0,1071.0 L566.8,1066.0 L573.6,1064.4 L580.5,1062.8 L587.3,1064.0 L594.1,1064.2 L600.9,1061.5 L607.7,1053.3 L614.5,1057.7 L620.0,1056.1 L628.1,1054.5 L636.2,1052.9 L643.0,1050.0 L648.4,1040.4 L655.2,1037.4 L663.3,1031.8 L668.7,1030.9 L672.8,1016.6 L676.8,1013.8 L679.5,1016.4 L684.9,1028.4 L690.3,1026.9 L695.8,1013.2 L701.2,1021.2 L706.6,1025.3 L712.0,1019.9 L717.4,1023.9 L722.8,1026.6 L728.2,1025.3 L733.6,1034.7 L740.0,1033.4 L743.2,1034.6 L750.0,1036.9 L756.8,1038.0 L763.6,1034.6 L770.5,1031.2 L779.5,1038.0 L786.4,1032.4 L793.2,1035.8 L800.0,1027.8 L806.8,1030.1 L813.6,1031.2 L818.2,1030.1 L822.7,1019.9 L829.5,1022.1 L836.4,1025.5 L840.9,1025.5 L847.7,1030.1 L854.5,1023.3 L861.4,1027.8 L868.2,1026.7 L875.0,1032.4 L881.8,1035.8 L888.6,1030.1 L895.5,1027.8 L902.3,1027.8 L909.1,1019.9 L915.9,1016.5 L920.5,1025.5 L921.8,1025.5 L928.6,1023.3 L937.7,1030.1 L944.5,1027.8 L949.1,1022.1 L953.6,1026.7 L960.5,1025.5 L967.3,1018.7 L973.0,1022.1 L978.6,1018.7 L985.5,1025.5 L992.3,1030.1 L1001.4,1032.4 L1005.9,1034.6 L1010.5,1039.2 L1019.5,1040.3 L1026.4,1036.9 L1033.2,1040.3 L1040.0,1038.0 L1046.8,1040.3 L1053.6,1043.7 L1060.5,1048.3 L1067.3,1048.3 L1074.1,1047.1 L1080.9,1046.0 L1087.7,1049.4 L1094.5,1044.9 L1101.4,1046.0 L1108.2,1048.1 L1112.7,1036.6 L1119.5,1031.9 L1126.4,1036.3 L1133.2,1033.9 L1140.0,1036.0 L1146.8,1033.6 L1153.6,1032.3 L1162.7,1028.7 L1169.5,1044.4 L1176.4,1043.2 L1183.2,1046.4 L1190.0,1051.9 L1196.8,1049.5 L1203.6,1052.8 L1210.5,1050.3 L1217.3,1059.3 L1224.1,1062.5 L1228.6,1060.2 L1234.3,1063.5 L1234.3,1087.5 L1228.6,1083.9 L1224.1,1086.1 L1217.3,1082.5 L1210.5,1073.3 L1203.6,1075.4 L1196.8,1071.8 L1190.0,1074.0 L1183.2,1068.1 L1176.4,1064.6 L1169.5,1065.6 L1162.7,1049.5 L1153.6,1052.7 L1146.8,1053.7 L1140.0,1055.8 L1133.2,1053.4 L1126.4,1055.5 L1119.5,1050.8 L1112.7,1055.2 L1108.2,1066.5 L1101.4,1064.0 L1094.5,1062.9 L1087.7,1067.4 L1080.9,1064.0 L1074.1,1065.1 L1067.3,1066.3 L1060.5,1066.3 L1053.6,1061.7 L1046.8,1058.3 L1040.0,1056.0 L1033.2,1058.3 L1026.4,1054.9 L1019.5,1058.3 L1010.5,1057.2 L1005.9,1052.6 L1001.4,1050.4 L992.3,1048.1 L985.5,1043.5 L978.6,1036.7 L973.0,1040.1 L967.3,1036.7 L960.5,1043.5 L953.6,1044.7 L949.1,1040.1 L944.5,1045.8 L937.7,1048.1 L928.6,1041.3 L921.8,1043.5 L920.5,1043.5 L915.9,1034.5 L909.1,1037.9 L902.3,1045.8 L895.5,1045.8 L888.6,1048.1 L881.8,1053.8 L875.0,1050.4 L868.2,1044.7 L861.4,1045.8 L854.5,1041.3 L847.7,1048.1 L840.9,1043.5 L836.4,1043.5 L829.5,1040.1 L822.7,1037.9 L818.2,1048.1 L813.6,1049.2 L806.8,1048.1 L800.0,1045.8 L793.2,1053.8 L786.4,1050.4 L779.5,1056.0 L770.5,1049.2 L763.6,1052.6 L756.8,1056.0 L750.0,1054.9 L743.2,1052.6 L740.0,1051.4 L733.6,1052.7 L728.2,1043.3 L722.8,1044.6 L717.4,1041.9 L712.0,1037.9 L706.6,1043.3 L701.2,1039.2 L695.8,1031.0 L690.3,1044.3 L684.9,1045.5 L679.5,1033.2 L676.8,1030.4 L672.8,1033.0 L668.7,1047.1 L663.3,1047.6 L655.2,1052.8 L648.4,1055.3 L643.0,1064.6 L636.2,1067.1 L628.1,1068.2 L620.0,1069.3 L614.5,1070.5 L607.7,1065.8 L600.9,1073.5 L594.1,1075.4 L587.3,1074.2 L580.5,1072.2 L573.6,1072.8 L566.8,1073.5 L560.0,1077.6 L553.2,1076.0 L546.4,1076.7 L539.5,1072.9Z" fill="#e9e9e9" stroke="#e9e9e9" stroke-width="5" stroke-linejoin="round"/>
<path d="M539.5,1059.8 L548.6,1062.8 L557.7,1061.2 L566.8,1058.5 L575.9,1060.3 L585.0,1058.7 L594.1,1059.4 L603.2,1061.2 L612.3,1056.3 L620.0,1048.8 L628.1,1047.1 L634.9,1042.8 L641.6,1035.7 L647.1,1033.5 L653.8,1031.2 L660.6,1029.6 L667.3,1031.3 L671.4,1027.8 L675.5,1022.2 L680.9,1019.3 L687.6,1013.6 L694.4,1006.6 L699.8,1000.9 L706.6,994.1 L713.3,987.4 L718.8,981.9 L725.5,977.9 L732.3,975.1 L740.0,973.8 L745.5,975.4 L752.3,976.6 L759.1,970.9 L765.9,966.3 L772.7,967.4 L779.5,971.9 L784.1,966.2 L788.6,962.8 L793.2,959.4 L797.7,966.2 L804.5,962.8 L811.4,961.6 L818.2,962.8 L825.0,959.3 L831.8,961.6 L838.6,966.1 L845.5,972.9 L852.3,975.2 L859.1,974.0 L865.9,972.9 L872.7,979.7 L879.5,981.9 L886.4,979.6 L893.2,979.6 L900.0,973.9 L906.8,979.6 L913.6,973.9 L920.5,979.5 L924.1,980.7 L930.9,982.9 L937.7,986.3 L944.5,984.0 L950.2,984.0 L955.9,995.4 L961.6,989.7 L967.3,990.8 L973.0,995.3 L978.6,986.2 L984.3,990.7 L990.0,988.5 L996.8,987.3 L1003.6,989.6 L1008.2,994.1 L1013.9,987.3 L1019.5,989.5 L1026.4,991.8 L1030.9,996.3 L1037.7,990.6 L1040.0,991.7 L1046.8,992.9 L1053.6,991.7 L1060.5,994.0 L1067.3,992.8 L1074.1,995.1 L1080.9,992.8 L1087.7,997.3 L1094.5,995.0 L1101.4,993.8 L1108.2,997.0 L1115.0,998.0 L1119.5,992.1 L1126.4,989.7 L1133.2,986.1 L1140.0,989.3 L1146.8,986.8 L1151.4,982.1 L1155.9,986.5 L1162.7,985.2 L1169.5,988.4 L1176.4,991.6 L1183.2,990.2 L1190.0,995.7 L1196.8,992.1 L1203.6,996.5 L1210.5,997.4 L1215.0,1005.2 L1219.5,1013.0 L1226.4,1011.7 L1234.3,1012.6 L1234.3,1040.6 L1226.4,1039.2 L1219.5,1040.2 L1215.0,1032.1 L1210.5,1024.0 L1203.6,1022.6 L1196.8,1017.9 L1190.0,1021.1 L1183.2,1015.2 L1176.4,1016.1 L1169.5,1012.5 L1162.7,1008.9 L1155.9,1009.9 L1151.4,1005.2 L1146.8,1009.6 L1140.0,1011.6 L1133.2,1008.0 L1126.4,1011.2 L1119.5,1013.3 L1115.0,1018.9 L1108.2,1017.5 L1101.4,1013.9 L1094.5,1015.0 L1087.7,1017.2 L1080.9,1012.7 L1074.1,1014.9 L1067.3,1012.6 L1060.5,1013.8 L1053.6,1011.5 L1046.8,1012.6 L1040.0,1011.4 L1037.7,1010.3 L1030.9,1016.0 L1026.4,1011.4 L1019.5,1009.1 L1013.9,1006.8 L1008.2,1013.6 L1003.6,1009.1 L996.8,1006.8 L990.0,1007.9 L984.3,1010.2 L978.6,1005.6 L973.0,1014.7 L967.3,1010.1 L961.6,1009.0 L955.9,1014.6 L950.2,1003.3 L944.5,1003.2 L937.7,1005.5 L930.9,1002.1 L924.1,999.8 L920.5,998.6 L913.6,992.9 L906.8,998.6 L900.0,992.9 L893.2,998.6 L886.4,998.6 L879.5,1000.8 L872.7,998.5 L865.9,991.7 L859.1,992.8 L852.3,993.9 L845.5,991.6 L838.6,984.8 L831.8,980.2 L825.0,977.9 L818.2,981.3 L811.4,980.2 L804.5,981.3 L797.7,984.7 L793.2,977.9 L788.6,981.3 L784.1,984.7 L779.5,990.3 L772.7,985.8 L765.9,984.6 L759.1,989.1 L752.3,994.8 L745.5,993.7 L740.0,992.0 L732.3,993.3 L725.5,996.0 L718.8,1000.0 L713.3,1005.4 L706.6,1012.2 L699.8,1018.9 L694.4,1024.1 L687.6,1030.6 L680.9,1035.7 L675.5,1038.2 L671.4,1043.5 L667.3,1046.7 L660.6,1044.4 L653.8,1045.5 L647.1,1047.2 L641.6,1049.1 L634.9,1055.6 L628.1,1059.3 L620.0,1060.4 L612.3,1067.3 L603.2,1071.5 L594.1,1068.8 L585.0,1067.2 L575.9,1067.9 L566.8,1065.1 L557.7,1066.9 L548.6,1067.6 L539.5,1063.8Z" fill="#e9e9e9" stroke="#e9e9e9" stroke-width="5" stroke-linejoin="round"/>
<path d="M539.5,1063.2 L548.6,1061.8 L557.7,1062.7 L564.5,1056.7 L571.4,1061.1 L575.9,1055.2 L580.5,1060.8 L586.1,1054.9 L591.8,1060.4 L598.6,1067.0 L603.2,1063.3 L610.0,1057.1 L616.8,1061.2 L620.0,1047.8 L624.1,1054.3 L628.1,1056.7 L633.5,1052.3 L638.9,1049.2 L643.7,1044.8 L648.4,1047.2 L653.8,1052.2 L657.9,1049.2 L664.6,1051.5 L668.7,1043.1 L674.1,1035.9 L679.5,1028.8 L684.9,1023.0 L690.3,1011.8 L695.8,996.5 L701.2,984.0 L706.6,974.6 L712.0,963.7 L717.4,954.2 L722.8,943.4 L728.2,935.2 L733.6,925.8 L740.0,919.0 L743.2,916.6 L747.7,910.9 L752.3,907.5 L756.8,898.4 L761.4,888.1 L765.9,887.0 L770.5,890.4 L773.9,881.3 L779.5,877.8 L784.1,873.3 L790.9,868.7 L795.5,868.7 L800.0,864.1 L806.8,861.8 L813.6,858.4 L818.2,861.8 L825.0,848.1 L829.5,853.8 L836.4,858.3 L840.9,854.9 L847.7,859.4 L852.3,863.9 L855.7,856.0 L860.2,861.6 L864.8,860.5 L870.5,854.8 L875.0,863.9 L879.5,868.4 L886.4,869.5 L893.2,870.6 L897.7,864.9 L904.5,863.8 L911.4,868.3 L918.2,866.0 L919.5,868.3 L924.1,876.2 L930.9,875.0 L937.7,881.8 L944.5,886.4 L949.1,882.9 L953.6,892.0 L960.5,897.7 L966.1,894.2 L971.8,902.2 L977.5,891.9 L983.2,901.0 L990.0,898.7 L994.5,908.9 L1001.4,905.5 L1008.2,920.1 L1013.9,914.4 L1019.5,922.2 L1026.4,926.6 L1033.2,931.1 L1038.9,933.2 L1040.0,932.1 L1046.8,933.1 L1051.4,928.5 L1055.9,939.8 L1062.7,939.7 L1069.5,942.9 L1076.4,946.2 L1083.2,943.9 L1090.0,948.3 L1096.8,947.0 L1101.4,950.4 L1108.2,951.4 L1115.0,949.0 L1121.8,952.3 L1128.6,951.0 L1133.2,954.4 L1140.0,947.4 L1146.8,951.9 L1153.6,948.3 L1160.5,951.6 L1167.3,952.6 L1176.4,955.9 L1182.0,950.1 L1187.7,956.8 L1194.5,954.4 L1201.4,955.5 L1208.2,955.4 L1215.0,958.6 L1219.5,966.5 L1226.4,963.0 L1234.3,964.0 L1234.3,996.0 L1226.4,994.7 L1219.5,998.0 L1215.0,990.0 L1208.2,986.5 L1201.4,986.4 L1194.5,985.1 L1187.7,987.3 L1182.0,980.3 L1176.4,985.9 L1167.3,982.4 L1160.5,981.1 L1153.6,977.6 L1146.8,980.9 L1140.0,976.2 L1133.2,982.9 L1128.6,979.4 L1121.8,980.4 L1115.0,976.9 L1108.2,979.1 L1101.4,977.8 L1096.8,974.3 L1090.0,975.4 L1083.2,970.7 L1076.4,972.9 L1069.5,969.3 L1062.7,965.8 L1055.9,965.7 L1051.4,954.2 L1046.8,958.7 L1040.0,957.5 L1038.9,958.6 L1033.2,956.2 L1026.4,951.5 L1019.5,946.9 L1013.9,938.8 L1008.2,944.4 L1001.4,929.5 L994.5,932.9 L990.0,922.6 L983.2,924.9 L977.5,915.8 L971.8,926.0 L966.1,918.0 L960.5,921.4 L953.6,915.7 L949.1,906.6 L944.5,910.0 L937.7,905.4 L930.9,898.6 L924.1,899.7 L919.5,891.7 L918.2,889.5 L911.4,891.7 L904.5,887.1 L897.7,888.2 L893.2,893.9 L886.4,892.8 L879.5,891.6 L875.0,887.0 L870.5,877.9 L864.8,883.6 L860.2,884.7 L855.7,879.0 L852.3,887.0 L847.7,882.4 L840.9,877.8 L836.4,881.2 L829.5,876.7 L825.0,871.0 L818.2,884.6 L813.6,881.2 L806.8,884.5 L800.0,886.8 L795.5,891.3 L790.9,891.3 L784.1,895.8 L779.5,900.4 L773.9,903.7 L770.5,912.8 L765.9,909.4 L761.4,910.5 L756.8,920.7 L752.3,929.8 L747.7,933.2 L743.2,938.9 L740.0,941.2 L733.6,948.0 L728.2,957.4 L722.8,965.5 L717.4,976.3 L712.0,985.8 L706.6,996.6 L701.2,1006.0 L695.8,1017.9 L690.3,1032.4 L684.9,1042.9 L679.5,1047.9 L674.1,1054.3 L668.7,1060.7 L664.6,1068.5 L657.9,1065.3 L653.8,1067.7 L648.4,1062.0 L643.7,1058.9 L638.9,1062.6 L633.5,1065.0 L628.1,1068.7 L624.1,1065.7 L620.0,1058.6 L616.8,1071.5 L610.0,1066.5 L603.2,1071.7 L598.6,1074.9 L591.8,1067.8 L586.1,1061.9 L580.5,1067.4 L575.9,1061.6 L571.4,1067.1 L564.5,1062.3 L557.7,1067.8 L548.6,1066.3 L539.5,1067.2Z" fill="#e9e9e9" stroke="#e9e9e9" stroke-width="5" stroke-linejoin="round"/>
<path d="M539.5,1064.4 L548.6,1062.0 L557.7,1061.5 L563.4,1061.9 L569.1,1067.5 L575.9,1068.6 L585.0,1066.7 L594.1,1066.2 L603.2,1063.8 L612.3,1066.5 L621.4,1067.1 L630.5,1068.2 L635.0,1074.9 L638.4,1084.0 L641.8,1085.1 L646.4,1079.4 L653.2,1073.6 L660.0,1072.5 L664.6,1065.9 L671.4,1055.6 L676.8,1041.3 L680.9,1024.6 L684.9,999.7 L689.0,972.2 L693.1,944.6 L697.1,917.1 L701.2,889.6 L705.2,866.4 L709.3,845.9 L714.7,821.3 L722.5,774.2 L728.1,757.7 L735.5,737.0 L740.3,723.8 L746.8,714.6 L753.3,707.7 L758.2,701.8 L763.9,702.1 L771.2,696.8 L779.3,696.8 L787.4,703.2 L790.9,705.2 L797.7,708.6 L803.4,712.0 L809.1,717.7 L815.9,723.3 L822.7,730.1 L829.5,736.9 L836.4,746.0 L843.2,753.9 L850.0,761.8 L856.8,769.7 L863.6,776.5 L870.5,783.3 L877.3,790.1 L884.1,796.9 L890.9,802.5 L897.7,808.2 L904.5,813.9 L911.4,816.1 L918.2,820.6 L924.1,825.1 L930.9,833.1 L937.7,841.0 L946.8,833.0 L953.6,843.2 L962.7,852.2 L971.8,860.2 L980.9,859.0 L990.0,868.0 L999.1,864.6 L1008.2,872.5 L1017.3,882.6 L1026.4,891.6 L1035.5,899.5 L1044.5,901.7 L1046.8,902.8 L1053.6,907.3 L1062.7,906.1 L1069.5,912.9 L1076.4,919.6 L1085.5,926.4 L1092.3,934.3 L1099.1,939.9 L1105.9,943.2 L1112.7,948.9 L1121.8,955.6 L1130.9,960.1 L1140.0,963.4 L1146.8,964.5 L1153.6,967.8 L1162.7,971.2 L1171.8,974.5 L1180.9,976.7 L1190.0,978.9 L1199.1,979.9 L1208.2,983.3 L1217.3,983.2 L1226.4,986.5 L1234.3,986.5 L1234.3,1014.5 L1226.4,1014.4 L1217.3,1010.9 L1208.2,1010.8 L1199.1,1007.3 L1190.0,1006.1 L1180.9,1003.8 L1171.8,1001.4 L1162.7,997.9 L1153.6,994.4 L1146.8,991.0 L1140.0,989.8 L1130.9,986.3 L1121.8,981.7 L1112.7,974.8 L1105.9,969.0 L1099.1,965.6 L1092.3,959.8 L1085.5,951.8 L1076.4,944.9 L1069.5,938.0 L1062.7,931.2 L1053.6,932.2 L1046.8,927.6 L1044.5,926.5 L1035.5,924.1 L1026.4,916.1 L1017.3,906.9 L1008.2,896.6 L999.1,888.6 L990.0,892.0 L980.9,882.8 L971.8,883.9 L962.7,875.9 L953.6,866.8 L946.8,856.6 L937.7,864.5 L930.9,856.5 L924.1,848.5 L918.2,843.9 L911.4,839.4 L904.5,837.1 L897.7,831.3 L890.9,825.6 L884.1,819.9 L877.3,813.1 L870.5,806.2 L863.6,799.4 L856.8,792.5 L850.0,784.6 L843.2,776.6 L836.4,768.6 L829.5,759.5 L822.7,752.6 L815.9,745.8 L809.1,740.1 L803.4,734.4 L797.7,730.9 L790.9,727.5 L787.4,725.5 L779.3,718.9 L771.2,718.9 L763.9,724.1 L758.2,723.6 L753.3,729.1 L746.8,735.2 L740.3,743.8 L735.5,756.6 L728.1,776.5 L722.5,792.5 L714.7,838.7 L709.3,862.8 L705.2,882.9 L701.2,905.7 L697.1,932.3 L693.1,958.9 L689.0,985.4 L684.9,1012.0 L680.9,1035.8 L676.8,1051.6 L671.4,1064.4 L664.6,1073.0 L660.0,1078.5 L653.2,1079.5 L646.4,1085.2 L641.8,1090.8 L638.4,1089.6 L635.0,1080.5 L630.5,1073.7 L621.4,1072.4 L612.3,1071.7 L603.2,1068.9 L594.1,1071.1 L585.0,1071.5 L575.9,1073.2 L569.1,1072.0 L563.4,1066.3 L557.7,1065.8 L548.6,1066.2 L539.5,1068.4Z" fill="#e9e9e9" stroke="#e9e9e9" stroke-width="5" stroke-linejoin="round"/>
<polyline points="539.5,1070.9 546.4,1074.3 553.2,1073.2 560.0,1074.3 566.8,1069.8 573.6,1068.6 580.5,1067.5 587.3,1069.1 594.1,1069.8 600.9,1067.5 607.7,1059.5 614.5,1064.1 620.0,1062.7 628.1,1061.3 636.2,1060.0 643.0,1057.3 648.4,1047.8 655.2,1045.1 663.3,1039.7 668.7,1039.0 672.8,1024.8 676.8,1022.1 679.5,1024.8 684.9,1037.0 690.3,1035.6 695.8,1022.1 701.2,1030.2 706.6,1034.3 712.0,1028.9 717.4,1032.9 722.8,1035.6 728.2,1034.3 733.6,1043.7 740.0,1042.4 743.2,1043.6 750.0,1045.9 756.8,1047.0 763.6,1043.6 770.5,1040.2 779.5,1047.0 786.4,1041.4 793.2,1044.8 800.0,1036.8 806.8,1039.1 813.6,1040.2 818.2,1039.1 822.7,1028.9 829.5,1031.1 836.4,1034.5 840.9,1034.5 847.7,1039.1 854.5,1032.3 861.4,1036.8 868.2,1035.7 875.0,1041.4 881.8,1044.8 888.6,1039.1 895.5,1036.8 902.3,1036.8 909.1,1028.9 915.9,1025.5 920.5,1034.5 921.8,1034.5 928.6,1032.3 937.7,1039.1 944.5,1036.8 949.1,1031.1 953.6,1035.7 960.5,1034.5 967.3,1027.7 973.0,1031.1 978.6,1027.7 985.5,1034.5 992.3,1039.1 1001.4,1041.4 1005.9,1043.6 1010.5,1048.2 1019.5,1049.3 1026.4,1045.9 1033.2,1049.3 1040.0,1047.0 1046.8,1049.3 1053.6,1052.7 1060.5,1057.3 1067.3,1057.3 1074.1,1056.1 1080.9,1055.0 1087.7,1058.4 1094.5,1053.9 1101.4,1055.0 1108.2,1057.3 1112.7,1045.9 1119.5,1041.4 1126.4,1045.9 1133.2,1043.6 1140.0,1045.9 1146.8,1043.6 1153.6,1042.5 1162.7,1039.1 1169.5,1055.0 1176.4,1053.9 1183.2,1057.3 1190.0,1063.0 1196.8,1060.7 1203.6,1064.1 1210.5,1061.8 1217.3,1070.9 1224.1,1074.3 1228.6,1072.0 1234.3,1075.5" fill="none" stroke="#000000" stroke-width="5.4" stroke-linejoin="round" stroke-linecap="round"/>
<polyline points="539.5,1061.8 548.6,1065.2 557.7,1064.1 566.8,1061.8 575.9,1064.1 585.0,1063.0 594.1,1064.1 603.2,1066.4 612.3,1061.8 620.0,1054.6 628.1,1053.2 634.9,1049.2 641.6,1042.4 647.1,1040.4 653.8,1038.3 660.6,1037.0 667.3,1039.0 671.4,1035.6 675.5,1030.2 680.9,1027.5 687.6,1022.1 694.4,1015.3 699.8,1009.9 706.6,1003.2 713.3,996.4 718.8,991.0 725.5,986.9 732.3,984.2 740.0,982.9 745.5,984.5 752.3,985.7 759.1,980.0 765.9,975.5 772.7,976.6 779.5,981.1 784.1,975.5 788.6,972.0 793.2,968.6 797.7,975.5 804.5,972.0 811.4,970.9 818.2,972.0 825.0,968.6 831.8,970.9 838.6,975.5 845.5,982.3 852.3,984.5 859.1,983.4 865.9,982.3 872.7,989.1 879.5,991.4 886.4,989.1 893.2,989.1 900.0,983.4 906.8,989.1 913.6,983.4 920.5,989.1 924.1,990.2 930.9,992.5 937.7,995.9 944.5,993.6 950.2,993.6 955.9,1005.0 961.6,999.3 967.3,1000.5 973.0,1005.0 978.6,995.9 984.3,1000.5 990.0,998.2 996.8,997.0 1003.6,999.3 1008.2,1003.9 1013.9,997.0 1019.5,999.3 1026.4,1001.6 1030.9,1006.1 1037.7,1000.5 1040.0,1001.6 1046.8,1002.7 1053.6,1001.6 1060.5,1003.9 1067.3,1002.7 1074.1,1005.0 1080.9,1002.7 1087.7,1007.3 1094.5,1005.0 1101.4,1003.9 1108.2,1007.3 1115.0,1008.4 1119.5,1002.7 1126.4,1000.5 1133.2,997.0 1140.0,1000.5 1146.8,998.2 1151.4,993.6 1155.9,998.2 1162.7,997.0 1169.5,1000.5 1176.4,1003.9 1183.2,1002.7 1190.0,1008.4 1196.8,1005.0 1203.6,1009.5 1210.5,1010.7 1215.0,1018.6 1219.5,1026.6 1226.4,1025.5 1234.3,1026.6" fill="none" stroke="#4aafcb" stroke-width="5.4" stroke-linejoin="round" stroke-linecap="round"/>
<polyline points="539.5,1065.2 548.6,1064.1 557.7,1065.2 564.5,1059.5 571.4,1064.1 575.9,1058.4 580.5,1064.1 586.1,1058.4 591.8,1064.1 598.6,1070.9 603.2,1067.5 610.0,1061.8 616.8,1066.4 620.0,1053.2 624.1,1060.0 628.1,1062.7 633.5,1058.6 638.9,1055.9 643.7,1051.9 648.4,1054.6 653.8,1060.0 657.9,1057.3 664.6,1060.0 668.7,1051.9 674.1,1045.1 679.5,1038.3 684.9,1032.9 690.3,1022.1 695.8,1007.2 701.2,995.0 706.6,985.6 712.0,974.8 717.4,965.3 722.8,954.5 728.2,946.3 733.6,936.9 740.0,930.1 743.2,927.7 747.7,922.0 752.3,918.6 756.8,909.5 761.4,899.3 765.9,898.2 770.5,901.6 773.9,892.5 779.5,889.1 784.1,884.5 790.9,880.0 795.5,880.0 800.0,875.5 806.8,873.2 813.6,869.8 818.2,873.2 825.0,859.5 829.5,865.2 836.4,869.8 840.9,866.4 847.7,870.9 852.3,875.5 855.7,867.5 860.2,873.2 864.8,872.0 870.5,866.4 875.0,875.5 879.5,880.0 886.4,881.1 893.2,882.3 897.7,876.6 904.5,875.5 911.4,880.0 918.2,877.7 919.5,880.0 924.1,888.0 930.9,886.8 937.7,893.6 944.5,898.2 949.1,894.8 953.6,903.9 960.5,909.5 966.1,906.1 971.8,914.1 977.5,903.9 983.2,913.0 990.0,910.7 994.5,920.9 1001.4,917.5 1008.2,932.3 1013.9,926.6 1019.5,934.5 1026.4,939.1 1033.2,943.6 1038.9,945.9 1040.0,944.8 1046.8,945.9 1051.4,941.4 1055.9,952.7 1062.7,952.7 1069.5,956.1 1076.4,959.5 1083.2,957.3 1090.0,961.8 1096.8,960.7 1101.4,964.1 1108.2,965.2 1115.0,963.0 1121.8,966.4 1128.6,965.2 1133.2,968.6 1140.0,961.8 1146.8,966.4 1153.6,963.0 1160.5,966.4 1167.3,967.5 1176.4,970.9 1182.0,965.2 1187.7,972.0 1194.5,969.8 1201.4,970.9 1208.2,970.9 1215.0,974.3 1219.5,982.3 1226.4,978.9 1234.3,980.0" fill="none" stroke="#0e6499" stroke-width="5.4" stroke-linejoin="round" stroke-linecap="round"/>
<polyline points="539.5,1066.4 548.6,1064.1 557.7,1063.6 563.4,1064.1 569.1,1069.8 575.9,1070.9 585.0,1069.1 594.1,1068.6 603.2,1066.4 612.3,1069.1 621.4,1069.8 630.5,1070.9 635.0,1077.7 638.4,1086.8 641.8,1088.0 646.4,1082.3 653.2,1076.6 660.0,1075.5 664.6,1069.4 671.4,1060.0 676.8,1046.5 680.9,1030.2 684.9,1005.9 689.0,978.8 693.1,951.8 697.1,924.7 701.2,897.6 705.2,874.6 709.3,854.4 714.7,830.0 722.5,783.3 728.1,767.1 735.5,746.8 740.3,733.8 746.8,724.9 753.3,718.4 758.2,712.7 763.9,713.1 771.2,707.9 779.3,707.9 787.4,714.4 790.9,716.4 797.7,719.8 803.4,723.2 809.1,728.9 815.9,734.5 822.7,741.4 829.5,748.2 836.4,757.3 843.2,765.2 850.0,773.2 856.8,781.1 863.6,788.0 870.5,794.8 877.3,801.6 884.1,808.4 890.9,814.1 897.7,819.8 904.5,825.5 911.4,827.7 918.2,832.3 924.1,836.8 930.9,844.8 937.7,852.7 946.8,844.8 953.6,855.0 962.7,864.1 971.8,872.0 980.9,870.9 990.0,880.0 999.1,876.6 1008.2,884.5 1017.3,894.8 1026.4,903.9 1035.5,911.8 1044.5,914.1 1046.8,915.2 1053.6,919.8 1062.7,918.6 1069.5,925.5 1076.4,932.3 1085.5,939.1 1092.3,947.0 1099.1,952.7 1105.9,956.1 1112.7,961.8 1121.8,968.6 1130.9,973.2 1140.0,976.6 1146.8,977.7 1153.6,981.1 1162.7,984.5 1171.8,988.0 1180.9,990.2 1190.0,992.5 1199.1,993.6 1208.2,997.0 1217.3,997.0 1226.4,1000.5 1234.3,1000.5" fill="none" stroke="#03546a" stroke-width="5.4" stroke-linejoin="round" stroke-linecap="round"/>
<line x1="1014.5" y1="689.5" x2="1067.2" y2="689.5" stroke="#222" stroke-width="5.4"/>
<line x1="1014.5" y1="727.7" x2="1067.2" y2="727.7" stroke="#4aafcb" stroke-width="5.4"/>
<line x1="1014.5" y1="765.2" x2="1067.2" y2="765.2" stroke="#0e6499" stroke-width="5.4"/>
<line x1="1014.5" y1="802.7" x2="1067.2" y2="802.7" stroke="#03546a" stroke-width="5.4"/>
<text x="1077.3" y="701.2" font-size="29">Saline</text>
<text x="1077.3" y="738.8" font-size="29">2 mg kg<tspan font-size="19.5" dy="-13">&#8722;1</tspan><tspan dy="13"></tspan></text>
<text x="1077.3" y="776.4" font-size="29">5 mg kg<tspan font-size="19.5" dy="-13">&#8722;1</tspan><tspan dy="13"></tspan></text>
<text x="1077.3" y="813.2" font-size="29">10 mg kg<tspan font-size="19.5" dy="-13">&#8722;1</tspan><tspan dy="13"></tspan></text>
<line x1="643.6" y1="962.0" x2="643.6" y2="1003.0" stroke="#606060" stroke-width="4.2"/>
<path d="M636.2,1001.5 L651,1001.5 L643.6,1018.6 Z" fill="#606060"/>
<path d="M521.3,1061.3 L521.3,1108.8 L592.6,1108.8" fill="none" stroke="#111" stroke-width="2"/>
<text x="523.0" y="1134.6" font-size="29">5 min</text>
<text x="509.0" y="1079.0" font-size="29" text-anchor="middle" transform="rotate(-90 509.0 1079.0)">&#916;<tspan font-style="italic">F</tspan>/<tspan font-style="italic">F</tspan> 5%</text>
</svg>
</body></html>
